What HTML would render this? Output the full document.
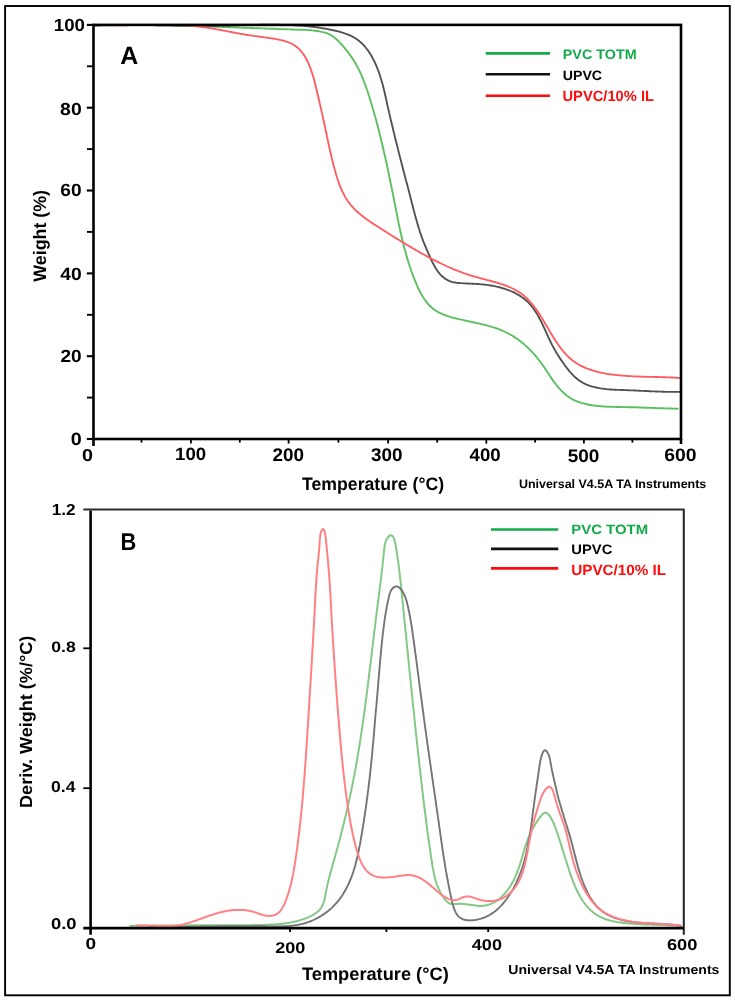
<!DOCTYPE html><html><head><meta charset="utf-8"><title>TGA</title><style>html,body{margin:0;padding:0;background:#fff;}svg{display:block;}text{font-family:"Liberation Sans",sans-serif;text-rendering:geometricPrecision;}</style></head><body>
<svg width="735" height="1001" viewBox="0 0 735 1001">
<rect x="0" y="0" width="735" height="1001" fill="#fff"/>
<rect x="5.1" y="6.0" width="724.7" height="989.3" fill="none" stroke="#000" stroke-width="1.9"/>
<g>
<path d="M94.0,25.1 95.2,25.1 96.4,25.1 97.6,25.1 98.8,25.1 100.0,25.1 101.2,25.0 102.4,25.0 103.6,25.0 104.8,25.0 106.0,25.0 107.2,25.0 108.4,25.0 109.6,25.0 110.8,24.9 112.0,24.9 113.2,24.9 114.4,24.9 115.6,24.9 116.8,24.9 118.0,24.9 119.2,24.9 120.4,24.9 121.6,24.9 122.8,24.9 124.0,24.9 125.2,24.9 126.4,24.9 127.6,24.9 128.8,24.9 130.0,24.9 131.2,24.9 132.4,24.9 133.6,24.9 134.8,24.9 136.0,25.0 137.2,25.0 138.4,25.0 139.6,25.0 140.8,25.0 142.0,25.0 143.2,25.0 144.4,25.0 145.6,25.0 146.8,25.1 148.0,25.1 149.2,25.1 150.4,25.1 151.6,25.1 152.8,25.1 154.0,25.1 155.2,25.2 156.4,25.2 157.6,25.2 158.8,25.2 160.0,25.2 161.2,25.3 162.4,25.3 163.6,25.3 164.8,25.3 166.0,25.4 167.2,25.4 168.4,25.4 169.5,25.4 170.7,25.5 171.9,25.5 173.1,25.5 174.3,25.5 175.5,25.6 176.7,25.6 177.9,25.6 179.1,25.6 180.3,25.7 181.5,25.7 182.7,25.7 183.9,25.8 185.1,25.8 186.3,25.8 187.5,25.9 188.7,25.9 189.9,25.9 191.1,26.0 192.3,26.0 193.5,26.0 194.7,26.1 195.9,26.1 197.1,26.1 198.3,26.2 199.5,26.2 200.7,26.2 201.9,26.3 203.1,26.3 204.3,26.4 205.5,26.4 206.7,26.4 207.9,26.5 209.1,26.5 210.3,26.5 211.5,26.6 212.7,26.6 213.9,26.7 215.1,26.7 216.3,26.7 217.5,26.8 218.7,26.8 219.9,26.9 221.1,26.9 222.3,27.0 223.5,27.0 224.7,27.0 225.9,27.1 227.1,27.1 228.3,27.2 229.5,27.2 230.7,27.2 231.9,27.3 233.1,27.3 234.3,27.4 235.5,27.4 236.7,27.5 237.9,27.5 239.1,27.6 240.3,27.6 241.5,27.6 242.7,27.7 243.9,27.7 245.1,27.8 246.3,27.8 247.5,27.9 248.7,27.9 249.9,27.9 251.1,28.0 252.3,28.0 253.5,28.1 254.7,28.1 255.9,28.2 257.1,28.2 258.3,28.3 259.5,28.3 260.7,28.4 261.9,28.4 263.1,28.4 264.3,28.5 265.5,28.5 266.7,28.6 267.8,28.6 269.0,28.7 270.2,28.7 271.4,28.7 272.6,28.8 273.8,28.8 275.0,28.9 276.2,28.9 277.4,29.0 278.6,29.0 279.8,29.1 281.0,29.1 282.2,29.1 283.4,29.2 284.6,29.2 285.8,29.3 287.0,29.3 288.1,29.4 289.3,29.4 290.5,29.4 291.7,29.5 293.0,29.5 294.2,29.6 295.4,29.6 296.6,29.6 297.8,29.7 299.0,29.7 300.2,29.8 301.4,29.8 302.6,29.8 303.8,29.9 305.1,29.9 306.3,30.0 307.5,30.1 308.7,30.1 309.9,30.2 311.1,30.3 312.3,30.4 313.5,30.6 314.7,30.7 315.9,30.8 317.1,31.0 318.3,31.2 319.5,31.4 320.6,31.6 321.8,31.9 323.0,32.1 324.1,32.4 325.3,32.7 326.4,33.1 327.5,33.5 328.6,34.0 329.6,34.4 330.7,35.0 331.7,35.6 332.7,36.2 333.6,36.9 334.6,37.7 335.5,38.4 336.4,39.2 337.3,40.0 338.2,40.9 339.0,41.7 339.8,42.6 340.7,43.5 341.5,44.4 342.3,45.3 343.1,46.2 343.9,47.1 344.7,48.1 345.4,49.0 346.2,49.9 346.9,50.9 347.7,51.8 348.4,52.7 349.1,53.7 349.8,54.7 350.5,55.6 351.2,56.6 351.9,57.6 352.5,58.6 353.2,59.6 353.8,60.6 354.4,61.6 355.0,62.6 355.6,63.6 356.2,64.6 356.8,65.7 357.4,66.7 357.9,67.8 358.4,68.8 359.0,69.9 359.5,71.0 360.0,72.0 360.5,73.1 361.0,74.2 361.5,75.3 361.9,76.4 362.4,77.5 362.9,78.6 363.3,79.7 363.7,80.8 364.2,81.9 364.6,83.1 365.0,84.2 365.4,85.3 365.8,86.4 366.2,87.6 366.6,88.7 367.0,89.8 367.4,91.0 367.8,92.1 368.2,93.3 368.5,94.4 368.9,95.6 369.3,96.7 369.6,97.9 370.0,99.0 370.3,100.2 370.7,101.3 371.0,102.5 371.4,103.6 371.7,104.8 372.1,105.9 372.4,107.1 372.7,108.2 373.1,109.4 373.4,110.6 373.7,111.7 374.1,112.9 374.4,114.0 374.7,115.2 375.0,116.3 375.4,117.5 375.7,118.7 376.0,119.8 376.3,121.0 376.6,122.1 376.9,123.3 377.2,124.5 377.6,125.6 377.9,126.8 378.2,127.9 378.5,129.1 378.8,130.3 379.1,131.4 379.3,132.6 379.6,133.7 379.9,134.9 380.2,136.1 380.5,137.2 380.8,138.4 381.1,139.6 381.4,140.7 381.6,141.9 381.9,143.1 382.2,144.2 382.5,145.4 382.7,146.6 383.0,147.7 383.3,148.9 383.6,150.1 383.8,151.2 384.1,152.4 384.4,153.6 384.6,154.7 384.9,155.9 385.2,157.1 385.4,158.2 385.7,159.4 385.9,160.6 386.2,161.8 386.5,162.9 386.7,164.1 387.0,165.3 387.2,166.4 387.5,167.6 387.7,168.8 388.0,170.0 388.2,171.1 388.5,172.3 388.7,173.5 389.0,174.6 389.2,175.8 389.4,177.0 389.7,178.2 389.9,179.3 390.2,180.5 390.4,181.7 390.6,182.9 390.9,184.0 391.1,185.2 391.4,186.4 391.6,187.6 391.8,188.7 392.1,189.9 392.3,191.1 392.5,192.3 392.8,193.4 393.0,194.6 393.2,195.8 393.5,197.0 393.7,198.1 393.9,199.3 394.2,200.5 394.4,201.7 394.6,202.8 394.8,204.0 395.1,205.2 395.3,206.4 395.5,207.6 395.8,208.7 396.0,209.9 396.2,211.1 396.5,212.3 396.7,213.4 396.9,214.6 397.2,215.8 397.4,217.0 397.6,218.1 397.9,219.3 398.1,220.5 398.4,221.7 398.6,222.8 398.8,224.0 399.1,225.2 399.3,226.4 399.6,227.5 399.8,228.7 400.1,229.9 400.3,231.0 400.6,232.2 400.9,233.4 401.1,234.6 401.4,235.7 401.7,236.9 401.9,238.1 402.2,239.2 402.5,240.4 402.8,241.6 403.1,242.7 403.3,243.9 403.6,245.1 403.9,246.2 404.2,247.4 404.5,248.5 404.8,249.7 405.1,250.9 405.5,252.0 405.8,253.2 406.1,254.3 406.4,255.5 406.8,256.6 407.1,257.8 407.4,258.9 407.8,260.1 408.1,261.2 408.5,262.4 408.9,263.5 409.2,264.7 409.6,265.8 410.0,267.0 410.4,268.1 410.7,269.2 411.1,270.4 411.5,271.5 411.9,272.7 412.4,273.8 412.8,274.9 413.2,276.1 413.6,277.2 414.1,278.3 414.5,279.4 415.0,280.6 415.4,281.7 415.9,282.8 416.4,283.9 416.8,285.0 417.3,286.2 417.8,287.3 418.3,288.4 418.9,289.5 419.4,290.5 419.9,291.6 420.5,292.7 421.1,293.7 421.6,294.8 422.2,295.8 422.8,296.8 423.5,297.8 424.1,298.8 424.8,299.8 425.5,300.7 426.2,301.7 426.9,302.6 427.6,303.4 428.4,304.3 429.1,305.1 429.9,306.0 430.8,306.8 431.6,307.5 432.5,308.2 433.4,309.0 434.3,309.6 435.3,310.3 436.2,310.9 437.2,311.5 438.2,312.1 439.3,312.6 440.3,313.1 441.4,313.6 442.5,314.1 443.6,314.5 444.7,315.0 445.8,315.4 447.0,315.8 448.1,316.2 449.3,316.6 450.5,316.9 451.6,317.3 452.8,317.6 454.0,317.9 455.2,318.2 456.4,318.5 457.6,318.8 458.9,319.1 460.1,319.4 461.3,319.6 462.5,319.9 463.7,320.2 464.9,320.5 466.1,320.7 467.3,321.0 468.5,321.2 469.7,321.5 470.9,321.8 472.1,322.0 473.3,322.3 474.5,322.5 475.7,322.8 476.9,323.1 478.1,323.3 479.3,323.6 480.5,323.9 481.7,324.2 482.9,324.4 484.0,324.7 485.2,325.0 486.4,325.3 487.5,325.6 488.7,325.9 489.8,326.3 491.0,326.6 492.1,326.9 493.2,327.3 494.4,327.7 495.5,328.0 496.6,328.4 497.7,328.8 498.8,329.2 499.9,329.6 501.0,330.1 502.1,330.5 503.2,331.0 504.2,331.5 505.3,332.0 506.3,332.5 507.4,333.0 508.4,333.5 509.4,334.1 510.5,334.6 511.5,335.2 512.5,335.8 513.5,336.4 514.5,337.1 515.4,337.7 516.4,338.4 517.4,339.0 518.3,339.7 519.3,340.4 520.2,341.1 521.1,341.8 522.0,342.6 523.0,343.3 523.9,344.1 524.8,344.9 525.6,345.7 526.5,346.5 527.4,347.3 528.3,348.1 529.1,348.9 530.0,349.8 530.8,350.6 531.6,351.5 532.5,352.4 533.3,353.3 534.1,354.2 534.9,355.1 535.7,356.0 536.4,356.9 537.2,357.9 538.0,358.8 538.7,359.8 539.5,360.8 540.2,361.8 541.0,362.8 541.7,363.8 542.4,364.8 543.1,365.8 543.8,366.8 544.5,367.8 545.2,368.8 545.9,369.9 546.6,370.9 547.3,371.9 548.0,373.0 548.7,374.0 549.3,375.0 550.0,376.0 550.7,377.1 551.4,378.1 552.1,379.1 552.8,380.1 553.5,381.1 554.2,382.1 554.9,383.0 555.7,384.0 556.4,384.9 557.1,385.9 557.9,386.8 558.6,387.7 559.4,388.6 560.2,389.4 561.0,390.3 561.8,391.1 562.6,391.9 563.4,392.7 564.3,393.5 565.1,394.3 566.0,395.0 566.9,395.7 567.8,396.3 568.7,397.0 569.7,397.6 570.6,398.2 571.6,398.8 572.6,399.3 573.6,399.8 574.7,400.3 575.7,400.8 576.8,401.2 577.8,401.6 578.9,402.0 580.0,402.4 581.1,402.8 582.3,403.1 583.4,403.4 584.5,403.7 585.7,404.0 586.9,404.3 588.0,404.5 589.2,404.8 590.4,405.0 591.6,405.2 592.8,405.4 594.0,405.5 595.2,405.7 596.5,405.9 597.7,406.0 598.9,406.1 600.2,406.2 601.4,406.3 602.7,406.4 603.9,406.5 605.2,406.6 606.4,406.6 607.7,406.7 608.9,406.8 610.2,406.8 611.4,406.8 612.7,406.9 613.9,406.9 615.2,406.9 616.4,407.0 617.7,407.0 618.9,407.0 620.2,407.0 621.4,407.0 622.6,407.1 623.8,407.1 625.0,407.1 626.3,407.1 627.5,407.1 628.7,407.2 629.8,407.2 631.0,407.2 632.2,407.3 633.4,407.3 634.5,407.3 635.7,407.3 636.9,407.4 638.0,407.4 639.2,407.5 640.4,407.5 641.5,407.5 642.7,407.6 643.8,407.6 645.0,407.7 646.1,407.7 647.3,407.7 648.4,407.8 649.6,407.8 650.8,407.9 651.9,407.9 653.1,408.0 654.2,408.0 655.4,408.0 656.6,408.1 657.8,408.1 659.0,408.2 660.2,408.2 661.4,408.2 662.6,408.3 663.8,408.3 665.0,408.4 666.2,408.4 667.5,408.4 668.7,408.5 669.9,408.5 671.2,408.5 672.5,408.6 673.8,408.6 675.1,408.6 676.4,408.7 677.7,408.7" fill="none" stroke="#5cbf5f" stroke-width="1.90" stroke-linejoin="round" stroke-linecap="round"/>
<path d="M94.0,25.7 95.2,25.6 96.4,25.5 97.6,25.5 98.8,25.5 100.0,25.4 101.2,25.4 102.4,25.3 103.6,25.3 104.8,25.2 106.0,25.2 107.2,25.2 108.4,25.2 109.6,25.1 110.8,25.1 112.0,25.1 113.2,25.1 114.4,25.0 115.6,25.0 116.8,25.0 118.0,25.0 119.2,25.0 120.4,25.0 121.6,25.0 122.8,24.9 124.0,24.9 125.2,24.9 126.4,24.9 127.6,24.9 128.8,24.9 130.0,24.9 131.2,24.9 132.4,24.9 133.6,24.9 134.8,24.9 136.0,24.9 137.2,24.9 138.4,25.0 139.6,25.0 140.8,25.0 142.0,25.0 143.2,25.0 144.4,25.0 145.6,25.0 146.8,25.0 148.0,25.0 149.2,25.1 150.4,25.1 151.6,25.1 152.8,25.1 154.0,25.1 155.2,25.1 156.4,25.2 157.6,25.2 158.8,25.2 160.0,25.2 161.2,25.2 162.4,25.3 163.6,25.3 164.8,25.3 165.9,25.3 167.1,25.3 168.3,25.4 169.5,25.4 170.7,25.4 171.9,25.4 173.1,25.4 174.3,25.5 175.5,25.5 176.7,25.5 177.9,25.5 179.1,25.5 180.3,25.6 181.5,25.6 182.7,25.6 183.9,25.6 185.1,25.6 186.3,25.6 187.5,25.6 188.7,25.7 189.9,25.7 191.1,25.7 192.3,25.7 193.5,25.7 194.7,25.7 195.9,25.7 197.1,25.7 198.3,25.7 199.5,25.7 200.7,25.8 201.9,25.8 203.1,25.8 204.3,25.8 205.5,25.8 206.7,25.8 207.9,25.8 209.1,25.8 210.3,25.7 211.5,25.7 212.7,25.7 213.9,25.7 215.1,25.7 216.3,25.7 217.5,25.7 218.7,25.7 219.9,25.6 221.1,25.6 222.3,25.6 223.5,25.6 224.7,25.6 225.9,25.5 227.1,25.5 228.3,25.5 229.5,25.5 230.7,25.4 231.9,25.4 233.1,25.4 234.3,25.3 235.5,25.3 236.7,25.3 237.9,25.2 239.1,25.2 240.3,25.2 241.5,25.1 242.7,25.1 243.9,25.1 245.1,25.1 246.3,25.0 247.5,25.0 248.7,25.0 249.9,24.9 251.1,24.9 252.3,24.9 253.5,24.9 254.7,24.8 255.9,24.8 257.1,24.8 258.3,24.8 259.5,24.7 260.8,24.7 262.0,24.7 263.2,24.7 264.4,24.7 265.6,24.7 266.8,24.7 268.0,24.7 269.2,24.7 270.4,24.7 271.6,24.7 272.8,24.7 274.0,24.7 275.2,24.7 276.4,24.7 277.5,24.7 278.7,24.7 279.9,24.7 281.1,24.8 282.3,24.8 283.5,24.8 284.7,24.8 285.9,24.9 287.1,24.9 288.3,25.0 289.5,25.0 290.7,25.1 291.9,25.1 293.1,25.2 294.3,25.2 295.5,25.3 296.7,25.4 297.9,25.5 299.1,25.5 300.3,25.6 301.5,25.7 302.6,25.8 303.8,25.9 305.0,26.0 306.2,26.1 307.4,26.2 308.6,26.4 309.8,26.5 311.0,26.6 312.2,26.8 313.3,26.9 314.5,27.0 315.7,27.2 316.9,27.4 318.1,27.5 319.3,27.7 320.5,27.9 321.6,28.1 322.8,28.3 324.0,28.5 325.2,28.7 326.4,28.9 327.6,29.1 328.7,29.3 329.9,29.5 331.1,29.8 332.3,30.0 333.4,30.3 334.6,30.5 335.8,30.8 337.0,31.1 338.1,31.4 339.3,31.7 340.4,32.0 341.6,32.4 342.7,32.7 343.9,33.1 345.0,33.5 346.1,33.9 347.2,34.3 348.3,34.7 349.4,35.2 350.5,35.7 351.5,36.2 352.6,36.7 353.6,37.2 354.6,37.8 355.6,38.4 356.6,39.1 357.5,39.7 358.5,40.4 359.4,41.2 360.3,41.9 361.2,42.7 362.1,43.5 362.9,44.4 363.7,45.2 364.5,46.1 365.3,47.0 366.1,48.0 366.8,49.0 367.6,49.9 368.3,50.9 369.0,52.0 369.6,53.0 370.3,54.0 371.0,55.1 371.6,56.2 372.2,57.3 372.8,58.3 373.3,59.5 373.9,60.6 374.5,61.7 375.0,62.8 375.5,63.9 376.0,65.0 376.5,66.1 376.9,67.3 377.4,68.4 377.8,69.5 378.3,70.7 378.7,71.8 379.1,72.9 379.5,74.1 379.9,75.2 380.2,76.3 380.6,77.5 380.9,78.6 381.3,79.8 381.6,80.9 381.9,82.1 382.3,83.2 382.6,84.4 382.9,85.5 383.2,86.7 383.5,87.8 383.8,89.0 384.0,90.1 384.3,91.3 384.6,92.4 384.9,93.6 385.1,94.8 385.4,95.9 385.6,97.1 385.9,98.2 386.2,99.4 386.4,100.6 386.7,101.7 386.9,102.9 387.2,104.1 387.4,105.2 387.7,106.4 388.0,107.5 388.2,108.7 388.5,109.9 388.8,111.0 389.0,112.2 389.3,113.4 389.6,114.5 389.8,115.7 390.1,116.8 390.4,118.0 390.6,119.2 390.9,120.3 391.2,121.5 391.5,122.7 391.7,123.8 392.0,125.0 392.3,126.1 392.6,127.3 392.9,128.5 393.1,129.6 393.4,130.8 393.7,132.0 394.0,133.1 394.3,134.3 394.6,135.5 394.8,136.6 395.1,137.8 395.4,138.9 395.7,140.1 396.0,141.3 396.3,142.4 396.6,143.6 396.9,144.8 397.2,145.9 397.5,147.1 397.8,148.2 398.0,149.4 398.3,150.6 398.6,151.7 398.9,152.9 399.2,154.1 399.5,155.2 399.8,156.4 400.1,157.6 400.4,158.7 400.7,159.9 401.0,161.0 401.3,162.2 401.6,163.4 401.9,164.5 402.2,165.7 402.5,166.9 402.8,168.0 403.1,169.2 403.4,170.4 403.7,171.5 404.0,172.7 404.3,173.8 404.6,175.0 404.9,176.2 405.2,177.3 405.5,178.5 405.8,179.7 406.1,180.8 406.5,182.0 406.8,183.2 407.1,184.3 407.4,185.5 407.7,186.6 408.0,187.8 408.3,189.0 408.6,190.1 408.9,191.3 409.2,192.5 409.5,193.6 409.8,194.8 410.1,196.0 410.4,197.1 410.7,198.3 411.0,199.4 411.3,200.6 411.6,201.8 411.9,202.9 412.2,204.1 412.5,205.3 412.8,206.4 413.1,207.6 413.4,208.8 413.7,209.9 414.0,211.1 414.3,212.2 414.6,213.4 414.9,214.6 415.2,215.7 415.5,216.9 415.9,218.0 416.2,219.2 416.5,220.3 416.8,221.5 417.2,222.6 417.5,223.8 417.8,224.9 418.2,226.1 418.5,227.2 418.9,228.3 419.2,229.5 419.6,230.6 419.9,231.7 420.3,232.9 420.7,234.0 421.1,235.1 421.5,236.2 421.9,237.4 422.3,238.5 422.7,239.6 423.1,240.7 423.5,241.8 424.0,242.9 424.4,244.0 424.9,245.1 425.3,246.2 425.8,247.3 426.2,248.4 426.7,249.5 427.2,250.6 427.7,251.7 428.1,252.7 428.6,253.8 429.1,254.9 429.6,256.0 430.1,257.2 430.6,258.3 431.1,259.4 431.6,260.5 432.1,261.6 432.7,262.7 433.2,263.8 433.8,264.8 434.4,265.9 435.0,266.9 435.6,268.0 436.2,269.0 436.9,270.0 437.5,271.0 438.2,271.9 439.0,272.9 439.7,273.8 440.5,274.7 441.3,275.5 442.2,276.3 443.1,277.1 444.0,277.8 445.0,278.6 446.0,279.2 447.0,279.8 448.0,280.4 449.1,280.9 450.2,281.3 451.3,281.7 452.5,282.1 453.7,282.3 454.8,282.5 456.0,282.7 457.3,282.9 458.5,283.0 459.7,283.1 460.9,283.1 462.1,283.2 463.3,283.3 464.5,283.3 465.7,283.4 466.9,283.5 468.1,283.5 469.3,283.6 470.5,283.6 471.7,283.7 472.8,283.7 474.0,283.8 475.2,283.9 476.4,283.9 477.6,284.0 478.8,284.1 479.9,284.2 481.1,284.3 482.3,284.4 483.5,284.5 484.7,284.6 485.9,284.8 487.1,284.9 488.3,285.1 489.5,285.3 490.7,285.5 491.9,285.7 493.1,285.9 494.3,286.1 495.5,286.4 496.7,286.6 497.8,286.9 499.0,287.2 500.2,287.5 501.4,287.8 502.6,288.2 503.7,288.5 504.9,288.9 506.0,289.3 507.2,289.7 508.3,290.1 509.4,290.5 510.5,291.0 511.6,291.4 512.7,291.9 513.8,292.4 514.9,292.9 515.9,293.5 517.0,294.1 518.0,294.6 519.0,295.2 520.0,295.9 521.0,296.5 521.9,297.2 522.9,297.8 523.8,298.5 524.7,299.3 525.6,300.0 526.5,300.8 527.4,301.6 528.2,302.4 529.0,303.2 529.8,304.1 530.6,304.9 531.3,305.8 532.0,306.7 532.8,307.7 533.5,308.6 534.2,309.6 534.8,310.6 535.5,311.6 536.1,312.6 536.8,313.6 537.4,314.6 538.0,315.7 538.6,316.7 539.2,317.8 539.7,318.9 540.3,319.9 540.9,321.0 541.4,322.1 541.9,323.2 542.5,324.3 543.0,325.5 543.5,326.6 544.1,327.7 544.6,328.8 545.1,329.9 545.6,331.1 546.1,332.2 546.6,333.3 547.1,334.4 547.6,335.5 548.1,336.7 548.7,337.8 549.2,338.9 549.7,340.0 550.2,341.0 550.7,342.1 551.3,343.2 551.8,344.3 552.3,345.3 552.9,346.4 553.4,347.4 554.0,348.4 554.6,349.4 555.2,350.5 555.7,351.5 556.3,352.5 556.9,353.5 557.6,354.5 558.2,355.4 558.8,356.4 559.4,357.4 560.1,358.4 560.7,359.4 561.4,360.4 562.1,361.3 562.7,362.3 563.4,363.3 564.1,364.3 564.8,365.3 565.6,366.3 566.3,367.2 567.0,368.2 567.8,369.2 568.6,370.1 569.3,371.1 570.1,372.0 570.9,372.9 571.8,373.8 572.6,374.7 573.4,375.6 574.3,376.4 575.2,377.3 576.1,378.0 577.0,378.8 577.9,379.5 578.9,380.2 579.8,380.9 580.8,381.5 581.8,382.1 582.8,382.7 583.8,383.3 584.9,383.8 585.9,384.3 587.0,384.7 588.1,385.2 589.2,385.6 590.3,385.9 591.4,386.3 592.5,386.6 593.6,386.9 594.8,387.2 595.9,387.5 597.1,387.7 598.3,388.0 599.4,388.2 600.6,388.4 601.8,388.6 603.0,388.7 604.2,388.9 605.4,389.0 606.6,389.2 607.9,389.3 609.1,389.4 610.3,389.5 611.5,389.5 612.8,389.6 614.0,389.7 615.2,389.7 616.5,389.8 617.7,389.9 618.9,389.9 620.2,389.9 621.4,390.0 622.6,390.0 623.8,390.1 625.1,390.1 626.3,390.1 627.5,390.2 628.7,390.2 629.9,390.3 631.1,390.3 632.3,390.4 633.5,390.4 634.7,390.5 635.9,390.5 637.1,390.6 638.2,390.7 639.4,390.7 640.6,390.8 641.8,390.8 643.0,390.9 644.1,390.9 645.3,391.0 646.5,391.0 647.7,391.1 648.8,391.2 650.0,391.2 651.2,391.3 652.4,391.3 653.5,391.4 654.7,391.4 655.9,391.5 657.1,391.5 658.3,391.6 659.5,391.6 660.7,391.6 661.8,391.7 663.0,391.7 664.2,391.7 665.4,391.8 666.6,391.8 667.8,391.8 669.1,391.8 670.3,391.9 671.5,391.9 672.7,391.9 674.0,391.9 675.2,391.9 676.4,391.9 677.7,391.9 678.9,391.9 680.2,391.9" fill="none" stroke="#505050" stroke-width="1.85" stroke-linejoin="round" stroke-linecap="round"/>
<path d="M94.1,24.7 95.3,24.7 96.5,24.8 97.6,24.9 98.8,24.9 100.0,24.9 101.2,25.0 102.4,25.0 103.6,25.1 104.8,25.1 106.0,25.1 107.2,25.1 108.4,25.2 109.5,25.2 110.7,25.2 111.9,25.2 113.1,25.2 114.3,25.2 115.5,25.2 116.7,25.2 117.9,25.2 119.1,25.2 120.3,25.2 121.5,25.2 122.7,25.2 123.9,25.2 125.1,25.2 126.3,25.2 127.5,25.2 128.7,25.1 129.9,25.1 131.1,25.1 132.3,25.1 133.5,25.1 134.7,25.1 135.9,25.0 137.1,25.0 138.3,25.0 139.5,25.0 140.7,25.0 141.9,25.0 143.1,24.9 144.3,24.9 145.5,24.9 146.7,24.9 147.9,24.9 149.1,24.9 150.3,24.9 151.5,24.8 152.7,24.8 153.9,24.8 155.1,24.8 156.3,24.8 157.5,24.8 158.7,24.8 159.9,24.8 161.1,24.8 162.3,24.8 163.5,24.8 164.7,24.8 165.9,24.8 167.1,24.9 168.3,24.9 169.5,24.9 170.7,24.9 171.9,24.9 173.1,25.0 174.3,25.0 175.5,25.0 176.7,25.1 177.9,25.1 179.1,25.2 180.3,25.2 181.5,25.3 182.7,25.3 183.9,25.4 185.1,25.5 186.3,25.6 187.5,25.6 188.7,25.7 189.9,25.8 191.1,25.9 192.2,26.0 193.4,26.1 194.6,26.2 195.8,26.3 197.0,26.4 198.2,26.6 199.4,26.7 200.6,26.8 201.7,27.0 202.9,27.1 204.1,27.3 205.3,27.4 206.5,27.6 207.7,27.8 208.8,28.0 210.0,28.2 211.2,28.3 212.4,28.5 213.6,28.7 214.7,28.9 215.9,29.2 217.1,29.4 218.3,29.6 219.4,29.8 220.6,30.0 221.8,30.2 223.0,30.5 224.1,30.7 225.3,30.9 226.5,31.1 227.7,31.4 228.9,31.6 230.0,31.8 231.2,32.0 232.4,32.3 233.6,32.5 234.7,32.7 235.9,32.9 237.1,33.2 238.3,33.4 239.4,33.6 240.6,33.8 241.8,34.0 243.0,34.2 244.2,34.4 245.4,34.6 246.5,34.8 247.7,35.0 248.9,35.2 250.1,35.4 251.3,35.6 252.5,35.7 253.6,35.9 254.8,36.1 256.0,36.2 257.2,36.4 258.4,36.5 259.6,36.7 260.8,36.8 262.0,37.0 263.2,37.2 264.4,37.3 265.6,37.5 266.8,37.6 268.0,37.8 269.2,38.0 270.3,38.1 271.5,38.3 272.7,38.5 273.9,38.7 275.1,38.9 276.3,39.1 277.5,39.4 278.7,39.6 279.9,39.9 281.1,40.1 282.3,40.4 283.4,40.7 284.6,41.0 285.7,41.4 286.8,41.8 288.0,42.2 289.1,42.6 290.1,43.0 291.2,43.5 292.2,44.0 293.2,44.6 294.2,45.2 295.2,45.8 296.1,46.5 297.0,47.2 297.9,47.9 298.7,48.7 299.5,49.5 300.3,50.4 301.1,51.2 301.8,52.2 302.6,53.1 303.2,54.0 303.9,55.0 304.6,56.0 305.2,57.1 305.8,58.1 306.4,59.2 307.0,60.2 307.5,61.3 308.0,62.4 308.5,63.6 309.0,64.7 309.5,65.8 310.0,67.0 310.4,68.1 310.8,69.3 311.2,70.5 311.6,71.6 312.0,72.8 312.4,74.0 312.7,75.1 313.1,76.3 313.4,77.5 313.8,78.6 314.1,79.8 314.4,81.0 314.7,82.1 315.0,83.3 315.3,84.5 315.6,85.7 315.9,86.8 316.1,88.0 316.4,89.2 316.7,90.3 317.0,91.5 317.3,92.7 317.5,93.9 317.8,95.0 318.1,96.2 318.4,97.4 318.6,98.5 318.9,99.7 319.2,100.9 319.5,102.0 319.7,103.2 320.0,104.4 320.3,105.5 320.5,106.7 320.8,107.9 321.1,109.0 321.3,110.2 321.6,111.4 321.8,112.5 322.1,113.7 322.4,114.8 322.6,116.0 322.9,117.2 323.1,118.3 323.4,119.5 323.7,120.7 323.9,121.8 324.2,123.0 324.4,124.2 324.7,125.3 324.9,126.5 325.2,127.7 325.4,128.8 325.6,130.0 325.9,131.1 326.1,132.3 326.4,133.5 326.6,134.6 326.9,135.8 327.1,137.0 327.4,138.1 327.6,139.3 327.8,140.5 328.1,141.6 328.3,142.8 328.6,144.0 328.8,145.1 329.1,146.3 329.3,147.5 329.6,148.6 329.9,149.8 330.1,151.0 330.4,152.1 330.6,153.3 330.9,154.5 331.2,155.6 331.5,156.8 331.7,158.0 332.0,159.1 332.3,160.3 332.6,161.5 332.9,162.6 333.2,163.8 333.5,165.0 333.8,166.2 334.1,167.3 334.4,168.5 334.7,169.7 335.1,170.8 335.4,172.0 335.7,173.2 336.1,174.4 336.4,175.5 336.8,176.7 337.1,177.8 337.5,179.0 337.9,180.2 338.3,181.3 338.7,182.5 339.1,183.6 339.5,184.7 340.0,185.9 340.4,187.0 340.9,188.1 341.3,189.2 341.8,190.3 342.3,191.4 342.8,192.4 343.4,193.5 343.9,194.6 344.5,195.6 345.0,196.6 345.6,197.7 346.3,198.7 346.9,199.7 347.5,200.6 348.2,201.6 348.9,202.5 349.6,203.5 350.3,204.4 351.0,205.3 351.8,206.2 352.6,207.1 353.4,207.9 354.2,208.8 355.0,209.6 355.8,210.4 356.7,211.2 357.6,212.0 358.5,212.8 359.3,213.6 360.3,214.3 361.2,215.1 362.1,215.8 363.0,216.6 364.0,217.3 365.0,218.0 365.9,218.7 366.9,219.4 367.9,220.1 368.9,220.8 369.9,221.5 370.9,222.2 371.9,222.9 372.9,223.5 373.9,224.2 374.9,224.9 376.0,225.5 377.0,226.2 378.0,226.8 379.0,227.5 380.1,228.1 381.1,228.8 382.1,229.4 383.1,230.1 384.2,230.7 385.2,231.4 386.2,232.0 387.2,232.7 388.3,233.3 389.3,234.0 390.3,234.6 391.3,235.3 392.3,235.9 393.4,236.5 394.4,237.2 395.4,237.8 396.4,238.4 397.5,239.1 398.5,239.7 399.5,240.3 400.5,241.0 401.6,241.6 402.6,242.2 403.6,242.8 404.6,243.4 405.6,244.1 406.7,244.7 407.7,245.3 408.7,245.9 409.8,246.5 410.8,247.1 411.8,247.7 412.8,248.3 413.9,248.9 414.9,249.5 415.9,250.1 416.9,250.7 418.0,251.3 419.0,251.9 420.0,252.5 421.1,253.1 422.1,253.6 423.2,254.2 424.2,254.8 425.2,255.4 426.3,255.9 427.3,256.5 428.3,257.1 429.4,257.6 430.4,258.2 431.5,258.7 432.5,259.3 433.6,259.8 434.6,260.3 435.7,260.9 436.7,261.4 437.8,261.9 438.9,262.5 439.9,263.0 441.0,263.5 442.0,264.0 443.1,264.5 444.2,265.0 445.3,265.5 446.3,266.0 447.4,266.5 448.5,267.0 449.6,267.5 450.7,267.9 451.8,268.4 452.9,268.9 454.0,269.3 455.1,269.8 456.2,270.2 457.3,270.7 458.4,271.1 459.5,271.5 460.6,271.9 461.8,272.4 462.9,272.8 464.0,273.2 465.2,273.6 466.3,274.0 467.4,274.4 468.6,274.7 469.7,275.1 470.9,275.5 472.1,275.8 473.2,276.2 474.4,276.5 475.6,276.9 476.8,277.2 478.0,277.5 479.1,277.9 480.3,278.2 481.5,278.5 482.7,278.8 483.9,279.1 485.1,279.4 486.3,279.8 487.5,280.1 488.7,280.4 489.9,280.7 491.1,281.0 492.3,281.3 493.4,281.7 494.6,282.0 495.8,282.3 497.0,282.7 498.1,283.0 499.3,283.4 500.4,283.8 501.6,284.1 502.7,284.5 503.9,284.9 505.0,285.3 506.1,285.7 507.2,286.2 508.3,286.6 509.4,287.1 510.5,287.5 511.5,288.0 512.6,288.5 513.6,289.0 514.7,289.5 515.7,290.1 516.7,290.7 517.7,291.3 518.6,291.9 519.6,292.5 520.5,293.1 521.5,293.8 522.4,294.5 523.3,295.2 524.2,295.9 525.0,296.7 525.9,297.4 526.7,298.2 527.5,299.0 528.3,299.9 529.1,300.7 529.9,301.6 530.7,302.4 531.5,303.3 532.2,304.2 532.9,305.1 533.7,306.1 534.4,307.0 535.1,308.0 535.8,308.9 536.5,309.9 537.2,310.9 537.9,311.9 538.6,312.9 539.2,313.9 539.9,314.9 540.5,316.0 541.2,317.0 541.8,318.0 542.5,319.1 543.1,320.1 543.8,321.2 544.4,322.3 545.0,323.3 545.7,324.4 546.3,325.4 546.9,326.5 547.6,327.6 548.2,328.6 548.8,329.7 549.4,330.8 550.1,331.8 550.7,332.9 551.3,334.0 552.0,335.0 552.6,336.1 553.3,337.1 553.9,338.2 554.6,339.2 555.2,340.2 555.9,341.2 556.6,342.3 557.3,343.3 557.9,344.3 558.6,345.2 559.3,346.2 560.0,347.2 560.8,348.1 561.5,349.1 562.2,350.0 563.0,350.9 563.7,351.8 564.5,352.7 565.3,353.6 566.1,354.4 566.9,355.3 567.7,356.1 568.5,356.9 569.4,357.7 570.2,358.5 571.1,359.2 572.0,360.0 572.9,360.7 573.8,361.4 574.7,362.0 575.7,362.7 576.6,363.3 577.6,363.9 578.6,364.5 579.6,365.0 580.7,365.6 581.7,366.1 582.7,366.6 583.8,367.1 584.9,367.6 585.9,368.1 587.0,368.5 588.1,368.9 589.3,369.3 590.4,369.7 591.5,370.1 592.6,370.5 593.8,370.8 595.0,371.1 596.1,371.5 597.3,371.8 598.5,372.1 599.6,372.3 600.8,372.6 602.0,372.9 603.2,373.1 604.4,373.3 605.6,373.6 606.9,373.8 608.1,374.0 609.3,374.1 610.5,374.3 611.7,374.5 612.9,374.7 614.2,374.8 615.4,374.9 616.6,375.1 617.8,375.2 619.1,375.3 620.3,375.4 621.5,375.5 622.7,375.6 623.9,375.7 625.1,375.8 626.4,375.9 627.6,376.0 628.8,376.1 630.0,376.1 631.2,376.2 632.3,376.3 633.5,376.3 634.7,376.4 635.9,376.4 637.1,376.5 638.3,376.5 639.5,376.6 640.6,376.6 641.8,376.6 643.0,376.7 644.2,376.7 645.3,376.7 646.5,376.8 647.7,376.8 648.9,376.8 650.0,376.8 651.2,376.9 652.4,376.9 653.6,376.9 654.8,377.0 655.9,377.0 657.1,377.0 658.3,377.0 659.5,377.1 660.7,377.1 661.9,377.1 663.1,377.2 664.3,377.2 665.5,377.2 666.7,377.3 667.9,377.3 669.1,377.4 670.3,377.4 671.5,377.5 672.7,377.5 674.0,377.6 675.2,377.7 676.4,377.7 677.7,377.8 678.9,377.9 680.2,378.0" fill="none" stroke="#ff5a60" stroke-width="1.85" stroke-linejoin="round" stroke-linecap="round"/>
<path d="M130.2,925.9 131.4,925.9 132.6,925.8 133.8,925.8 135.0,925.8 136.2,925.8 137.3,925.8 138.5,925.8 139.7,925.8 140.9,925.8 142.1,925.8 143.3,925.7 144.5,925.7 145.7,925.7 146.9,925.7 148.1,925.7 149.3,925.7 150.5,925.7 151.7,925.7 152.9,925.7 154.1,925.6 155.3,925.6 156.5,925.6 157.7,925.6 158.9,925.6 160.1,925.6 161.2,925.6 162.4,925.6 163.6,925.5 164.8,925.5 166.0,925.5 167.2,925.5 168.4,925.5 169.6,925.5 170.8,925.5 172.0,925.5 173.2,925.5 174.4,925.4 175.6,925.4 176.8,925.4 178.0,925.4 179.2,925.4 180.4,925.4 181.6,925.4 182.8,925.4 184.0,925.4 185.2,925.4 186.4,925.3 187.6,925.3 188.8,925.3 190.0,925.3 191.2,925.3 192.4,925.3 193.6,925.3 194.8,925.3 196.0,925.3 197.2,925.3 198.4,925.3 199.6,925.3 200.8,925.3 202.0,925.3 203.2,925.3 204.4,925.2 205.6,925.2 206.8,925.2 208.0,925.2 209.2,925.2 210.4,925.2 211.6,925.2 212.8,925.2 214.0,925.2 215.2,925.2 216.4,925.2 217.6,925.2 218.8,925.2 220.0,925.2 221.2,925.2 222.4,925.2 223.6,925.2 224.8,925.2 226.0,925.2 227.2,925.2 228.4,925.2 229.6,925.2 230.8,925.2 232.0,925.2 233.2,925.2 234.4,925.3 235.6,925.3 236.8,925.3 238.0,925.3 239.2,925.3 240.4,925.3 241.6,925.2 242.8,925.2 244.0,925.2 245.2,925.2 246.4,925.2 247.6,925.2 248.8,925.2 250.0,925.2 251.2,925.2 252.4,925.2 253.6,925.1 254.8,925.1 256.0,925.1 257.2,925.1 258.4,925.1 259.6,925.0 260.8,925.0 262.0,925.0 263.2,924.9 264.4,924.9 265.6,924.8 266.8,924.8 268.0,924.7 269.2,924.7 270.4,924.6 271.6,924.6 272.8,924.5 274.0,924.4 275.1,924.4 276.3,924.3 277.5,924.2 278.7,924.1 279.9,924.0 281.1,923.9 282.3,923.8 283.5,923.6 284.7,923.5 285.9,923.3 287.1,923.2 288.2,923.0 289.4,922.8 290.6,922.6 291.7,922.3 292.9,922.1 294.1,921.8 295.2,921.6 296.4,921.3 297.6,921.0 298.7,920.6 299.9,920.3 301.0,919.9 302.2,919.6 303.3,919.2 304.4,918.8 305.6,918.3 306.7,917.9 307.9,917.4 309.0,916.9 310.1,916.4 311.2,915.9 312.3,915.3 313.4,914.7 314.4,914.1 315.4,913.4 316.4,912.7 317.3,912.0 318.2,911.3 319.0,910.5 319.8,909.6 320.5,908.7 321.2,907.8 321.8,906.8 322.3,905.8 322.8,904.8 323.2,903.7 323.6,902.6 324.0,901.5 324.3,900.3 324.6,899.1 324.8,897.9 325.1,896.7 325.3,895.5 325.5,894.3 325.8,893.0 326.0,891.8 326.2,890.6 326.5,889.4 326.7,888.2 327.0,887.0 327.2,885.8 327.5,884.6 327.8,883.5 328.1,882.3 328.3,881.1 328.6,879.9 328.9,878.8 329.2,877.6 329.5,876.4 329.8,875.3 330.1,874.1 330.4,873.0 330.7,871.8 331.1,870.7 331.4,869.5 331.7,868.4 332.0,867.2 332.3,866.1 332.7,864.9 333.0,863.8 333.3,862.7 333.6,861.5 334.0,860.4 334.3,859.2 334.6,858.1 334.9,856.9 335.2,855.8 335.6,854.6 335.9,853.5 336.2,852.3 336.5,851.2 336.8,850.0 337.1,848.9 337.5,847.7 337.8,846.6 338.1,845.4 338.4,844.3 338.7,843.1 339.0,842.0 339.3,840.8 339.6,839.7 339.9,838.5 340.2,837.4 340.5,836.2 340.8,835.0 341.1,833.9 341.4,832.7 341.7,831.6 342.0,830.4 342.3,829.2 342.6,828.1 342.9,826.9 343.2,825.7 343.5,824.6 343.8,823.4 344.1,822.3 344.3,821.1 344.6,819.9 344.9,818.8 345.2,817.6 345.5,816.4 345.8,815.3 346.0,814.1 346.3,812.9 346.6,811.8 346.9,810.6 347.1,809.4 347.4,808.2 347.7,807.1 347.9,805.9 348.2,804.7 348.5,803.6 348.7,802.4 349.0,801.2 349.2,800.0 349.5,798.9 349.7,797.7 350.0,796.5 350.2,795.4 350.5,794.2 350.7,793.0 351.0,791.8 351.2,790.7 351.5,789.5 351.7,788.3 352.0,787.1 352.2,786.0 352.4,784.8 352.7,783.6 352.9,782.4 353.1,781.2 353.4,780.1 353.6,778.9 353.8,777.7 354.0,776.5 354.3,775.4 354.5,774.2 354.7,773.0 354.9,771.8 355.1,770.6 355.4,769.5 355.6,768.3 355.8,767.1 356.0,765.9 356.2,764.8 356.4,763.6 356.6,762.4 356.8,761.2 357.0,760.0 357.2,758.9 357.4,757.7 357.6,756.5 357.8,755.3 358.0,754.1 358.2,752.9 358.4,751.8 358.6,750.6 358.8,749.4 359.0,748.2 359.2,747.0 359.4,745.8 359.6,744.7 359.8,743.5 359.9,742.3 360.1,741.1 360.3,739.9 360.5,738.7 360.7,737.6 360.9,736.4 361.0,735.2 361.2,734.0 361.4,732.8 361.6,731.6 361.7,730.5 361.9,729.3 362.1,728.1 362.3,726.9 362.4,725.7 362.6,724.5 362.8,723.3 362.9,722.2 363.1,721.0 363.3,719.8 363.4,718.6 363.6,717.4 363.8,716.2 363.9,715.0 364.1,713.8 364.3,712.7 364.4,711.5 364.6,710.3 364.8,709.1 364.9,707.9 365.1,706.7 365.2,705.5 365.4,704.3 365.5,703.2 365.7,702.0 365.9,700.8 366.0,699.6 366.2,698.4 366.3,697.2 366.5,696.0 366.6,694.8 366.8,693.6 366.9,692.5 367.1,691.3 367.2,690.1 367.4,688.9 367.5,687.7 367.7,686.5 367.8,685.3 368.0,684.1 368.1,682.9 368.3,681.8 368.4,680.6 368.6,679.4 368.7,678.2 368.9,677.0 369.0,675.8 369.1,674.6 369.3,673.4 369.4,672.2 369.6,671.0 369.7,669.9 369.9,668.7 370.0,667.5 370.2,666.3 370.3,665.1 370.5,663.9 370.6,662.7 370.7,661.5 370.9,660.3 371.0,659.1 371.2,657.9 371.3,656.8 371.5,655.6 371.6,654.4 371.7,653.2 371.9,652.0 372.0,650.8 372.2,649.6 372.3,648.4 372.5,647.2 372.6,646.0 372.7,644.8 372.9,643.6 373.0,642.5 373.2,641.3 373.3,640.1 373.5,638.9 373.6,637.7 373.7,636.5 373.9,635.3 374.0,634.1 374.2,632.9 374.3,631.7 374.5,630.5 374.6,629.3 374.8,628.2 374.9,627.0 375.1,625.8 375.2,624.6 375.4,623.4 375.5,622.2 375.6,621.0 375.8,619.8 375.9,618.6 376.1,617.4 376.2,616.2 376.4,615.1 376.5,613.9 376.7,612.7 376.8,611.5 377.0,610.3 377.1,609.1 377.3,607.9 377.4,606.7 377.6,605.5 377.7,604.3 377.9,603.1 378.1,602.0 378.2,600.8 378.4,599.6 378.5,598.4 378.7,597.2 378.8,596.0 379.0,594.8 379.1,593.6 379.3,592.5 379.4,591.3 379.5,590.1 379.7,588.9 379.8,587.7 380.0,586.5 380.1,585.3 380.3,584.2 380.4,583.0 380.6,581.8 380.7,580.6 380.9,579.4 381.0,578.3 381.1,577.1 381.3,575.9 381.4,574.7 381.6,573.5 381.7,572.4 381.8,571.2 382.0,570.0 382.1,568.8 382.3,567.7 382.4,566.5 382.5,565.3 382.7,564.1 382.8,562.9 382.9,561.7 383.0,560.5 383.2,559.3 383.3,558.1 383.4,556.9 383.5,555.7 383.7,554.5 383.8,553.2 383.9,552.0 384.0,550.7 384.2,549.5 384.3,548.2 384.5,547.0 384.7,545.7 384.9,544.5 385.2,543.3 385.5,542.2 385.9,541.0 386.4,540.0 386.9,538.9 387.6,537.9 388.3,537.0 389.1,536.1 390.0,535.5 390.9,535.3 391.9,535.6 392.8,536.3 393.5,537.4 394.1,538.6 394.5,539.9 394.8,541.3 395.1,542.5 395.4,543.8 395.6,544.9 395.8,546.1 396.0,547.2 396.2,548.3 396.4,549.4 396.5,550.5 396.7,551.7 396.9,552.8 397.1,554.0 397.2,555.2 397.4,556.4 397.6,557.5 397.7,558.7 397.9,559.9 398.1,561.1 398.2,562.3 398.4,563.5 398.6,564.7 398.7,565.9 398.9,567.1 399.0,568.3 399.2,569.5 399.3,570.7 399.5,571.9 399.6,573.1 399.7,574.3 399.9,575.5 400.0,576.7 400.1,577.9 400.3,579.1 400.4,580.3 400.5,581.5 400.7,582.6 400.8,583.8 400.9,585.0 401.0,586.2 401.2,587.4 401.3,588.6 401.4,589.8 401.5,591.0 401.7,592.2 401.8,593.4 401.9,594.6 402.0,595.8 402.1,597.0 402.3,598.1 402.4,599.3 402.5,600.5 402.6,601.7 402.7,602.9 402.8,604.1 403.0,605.3 403.1,606.5 403.2,607.7 403.3,608.9 403.4,610.1 403.6,611.3 403.7,612.4 403.8,613.6 403.9,614.8 404.0,616.0 404.1,617.2 404.3,618.4 404.4,619.6 404.5,620.8 404.6,622.0 404.7,623.2 404.9,624.4 405.0,625.6 405.1,626.7 405.2,627.9 405.3,629.1 405.5,630.3 405.6,631.5 405.7,632.7 405.8,633.9 405.9,635.1 406.1,636.3 406.2,637.5 406.3,638.7 406.4,639.9 406.5,641.1 406.6,642.2 406.8,643.4 406.9,644.6 407.0,645.8 407.1,647.0 407.2,648.2 407.4,649.4 407.5,650.6 407.6,651.8 407.7,653.0 407.9,654.2 408.0,655.4 408.1,656.6 408.2,657.7 408.3,658.9 408.5,660.1 408.6,661.3 408.7,662.5 408.8,663.7 408.9,664.9 409.1,666.1 409.2,667.3 409.3,668.5 409.4,669.7 409.5,670.9 409.7,672.1 409.8,673.3 409.9,674.4 410.0,675.6 410.2,676.8 410.3,678.0 410.4,679.2 410.5,680.4 410.6,681.6 410.8,682.8 410.9,684.0 411.0,685.2 411.1,686.4 411.3,687.6 411.4,688.8 411.5,690.0 411.6,691.1 411.7,692.3 411.9,693.5 412.0,694.7 412.1,695.9 412.2,697.1 412.4,698.3 412.5,699.5 412.6,700.7 412.7,701.9 412.8,703.1 413.0,704.3 413.1,705.5 413.2,706.7 413.3,707.9 413.5,709.0 413.6,710.2 413.7,711.4 413.8,712.6 414.0,713.8 414.1,715.0 414.2,716.2 414.3,717.4 414.5,718.6 414.6,719.8 414.7,721.0 414.8,722.2 415.0,723.4 415.1,724.6 415.2,725.7 415.3,726.9 415.5,728.1 415.6,729.3 415.7,730.5 415.8,731.7 416.0,732.9 416.1,734.1 416.2,735.3 416.4,736.5 416.5,737.7 416.6,738.9 416.7,740.1 416.9,741.3 417.0,742.4 417.1,743.6 417.2,744.8 417.4,746.0 417.5,747.2 417.6,748.4 417.8,749.6 417.9,750.8 418.0,752.0 418.2,753.2 418.3,754.4 418.4,755.6 418.5,756.7 418.7,757.9 418.8,759.1 418.9,760.3 419.1,761.5 419.2,762.7 419.3,763.9 419.5,765.1 419.6,766.3 419.7,767.5 419.9,768.7 420.0,769.8 420.1,771.0 420.3,772.2 420.4,773.4 420.5,774.6 420.7,775.8 420.8,777.0 420.9,778.2 421.1,779.4 421.2,780.6 421.4,781.7 421.5,782.9 421.6,784.1 421.8,785.3 421.9,786.5 422.0,787.7 422.2,788.9 422.3,790.1 422.5,791.3 422.6,792.4 422.7,793.6 422.9,794.8 423.0,796.0 423.2,797.2 423.3,798.4 423.4,799.6 423.6,800.8 423.7,802.0 423.9,803.1 424.0,804.3 424.2,805.5 424.3,806.7 424.5,807.9 424.6,809.1 424.8,810.3 424.9,811.5 425.1,812.7 425.2,813.8 425.4,815.0 425.5,816.2 425.7,817.4 425.8,818.6 426.0,819.8 426.1,821.0 426.3,822.2 426.4,823.4 426.6,824.5 426.7,825.7 426.9,826.9 427.0,828.1 427.2,829.3 427.4,830.5 427.5,831.7 427.7,832.9 427.8,834.1 428.0,835.2 428.2,836.4 428.3,837.6 428.5,838.8 428.7,840.0 428.8,841.2 429.0,842.4 429.2,843.6 429.3,844.8 429.5,846.0 429.7,847.1 429.8,848.3 430.0,849.5 430.2,850.7 430.4,851.9 430.5,853.1 430.7,854.3 430.9,855.5 431.1,856.7 431.2,857.9 431.4,859.1 431.6,860.3 431.8,861.4 432.0,862.6 432.1,863.8 432.3,865.0 432.5,866.2 432.7,867.4 432.9,868.6 433.1,869.8 433.4,870.9 433.6,872.1 433.8,873.3 434.1,874.5 434.4,875.6 434.6,876.8 434.9,877.9 435.2,879.1 435.5,880.2 435.9,881.4 436.2,882.5 436.6,883.6 437.0,884.8 437.4,885.9 437.8,887.0 438.3,888.1 438.8,889.2 439.3,890.2 439.8,891.3 440.4,892.4 440.9,893.4 441.5,894.4 442.2,895.5 442.8,896.5 443.5,897.5 444.2,898.5 445.0,899.5 445.8,900.4 446.6,901.3 447.5,902.1 448.4,902.8 449.4,903.4 450.4,903.8 451.4,904.0 452.5,904.1 453.7,904.2 454.8,904.1 456.0,904.0 457.2,903.9 458.5,903.8 459.7,903.8 461.0,903.8 462.2,903.8 463.5,903.9 464.8,904.0 466.0,904.2 467.3,904.4 468.6,904.5 469.9,904.7 471.1,904.9 472.4,905.1 473.7,905.3 474.9,905.5 476.2,905.6 477.4,905.8 478.6,905.9 479.8,905.9 481.0,905.9 482.2,905.9 483.4,905.8 484.5,905.6 485.7,905.4 486.8,905.2 487.9,904.9 489.0,904.6 490.0,904.2 491.1,903.8 492.1,903.4 493.1,902.9 494.2,902.3 495.1,901.8 496.1,901.2 497.1,900.6 498.0,899.9 498.9,899.2 499.8,898.5 500.7,897.7 501.6,896.9 502.4,896.1 503.2,895.3 504.1,894.4 504.9,893.5 505.6,892.6 506.4,891.7 507.1,890.7 507.9,889.8 508.6,888.8 509.3,887.8 509.9,886.8 510.6,885.7 511.2,884.7 511.8,883.6 512.4,882.6 513.0,881.5 513.6,880.4 514.1,879.3 514.7,878.2 515.2,877.1 515.7,876.0 516.1,874.9 516.6,873.8 517.0,872.7 517.5,871.5 517.9,870.4 518.3,869.3 518.7,868.1 519.1,867.0 519.5,865.9 519.8,864.7 520.2,863.6 520.6,862.4 520.9,861.3 521.3,860.1 521.6,859.0 522.0,857.8 522.3,856.7 522.6,855.5 523.0,854.4 523.3,853.2 523.7,852.1 524.0,851.0 524.3,849.8 524.7,848.7 525.0,847.6 525.4,846.4 525.8,845.3 526.1,844.2 526.5,843.1 526.9,842.0 527.3,840.9 527.7,839.8 528.1,838.7 528.5,837.6 529.0,836.5 529.4,835.4 529.9,834.4 530.4,833.3 530.9,832.2 531.4,831.2 531.9,830.1 532.5,829.1 533.0,828.0 533.6,827.0 534.2,825.9 534.9,824.9 535.5,823.8 536.2,822.7 536.9,821.7 537.6,820.6 538.3,819.5 539.1,818.5 539.9,817.4 540.7,816.3 541.5,815.3 542.3,814.5 543.2,813.7 544.0,813.2 544.9,812.8 545.7,812.8 546.6,813.0 547.4,813.4 548.1,814.1 548.9,814.9 549.7,815.9 550.4,817.0 551.1,818.1 551.7,819.3 552.3,820.5 552.9,821.7 553.5,822.9 554.0,824.0 554.5,825.2 554.9,826.4 555.4,827.6 555.8,828.8 556.2,829.9 556.6,831.1 557.0,832.2 557.4,833.4 557.8,834.5 558.2,835.7 558.5,836.8 558.9,837.9 559.2,839.0 559.6,840.1 559.9,841.2 560.3,842.3 560.7,843.3 561.0,844.4 561.3,845.5 561.7,846.6 562.0,847.7 562.4,848.7 562.7,849.8 563.1,850.9 563.4,852.0 563.8,853.1 564.1,854.2 564.4,855.3 564.8,856.4 565.1,857.5 565.5,858.7 565.8,859.8 566.2,861.0 566.5,862.1 566.9,863.3 567.3,864.5 567.6,865.6 568.0,866.8 568.4,868.0 568.8,869.2 569.1,870.3 569.5,871.5 569.9,872.7 570.3,873.9 570.7,875.1 571.1,876.2 571.6,877.4 572.0,878.6 572.4,879.8 572.9,880.9 573.3,882.1 573.8,883.3 574.2,884.4 574.7,885.5 575.2,886.7 575.7,887.8 576.2,888.9 576.7,890.0 577.3,891.2 577.8,892.2 578.4,893.3 578.9,894.4 579.5,895.5 580.1,896.5 580.7,897.5 581.3,898.6 581.9,899.6 582.6,900.6 583.3,901.5 583.9,902.5 584.6,903.4 585.3,904.4 586.1,905.3 586.8,906.1 587.6,907.0 588.3,907.9 589.1,908.7 589.9,909.5 590.7,910.3 591.6,911.0 592.5,911.8 593.3,912.5 594.2,913.2 595.2,913.9 596.1,914.5 597.1,915.1 598.1,915.7 599.1,916.3 600.1,916.8 601.1,917.3 602.2,917.8 603.3,918.2 604.4,918.7 605.5,919.1 606.6,919.5 607.8,919.8 608.9,920.2 610.1,920.5 611.3,920.8 612.5,921.1 613.7,921.4 614.9,921.6 616.1,921.9 617.3,922.1 618.5,922.3 619.8,922.5 621.0,922.6 622.3,922.8 623.5,923.0 624.8,923.1 626.0,923.2 627.2,923.3 628.5,923.4 629.7,923.5 631.0,923.6 632.2,923.7 633.5,923.8 634.7,923.9 635.9,924.0 637.1,924.0 638.3,924.1 639.5,924.2 640.7,924.2 641.9,924.3 643.1,924.3 644.2,924.4 645.4,924.4 646.6,924.5 647.7,924.5 648.9,924.6 650.1,924.6 651.2,924.6 652.4,924.7 653.5,924.7 654.7,924.8 655.8,924.8 657.0,924.8 658.1,924.9 659.3,924.9 660.4,925.0 661.6,925.0 662.8,925.0 664.0,925.1 665.1,925.1 666.3,925.2 667.5,925.2 668.7,925.3 669.9,925.3 671.2,925.4 672.4,925.4 673.6,925.5 674.9,925.5 676.1,925.6 677.4,925.7 678.7,925.7 680.0,925.8 681.3,925.9" fill="none" stroke="#84c886" stroke-width="2.00" stroke-linejoin="round" stroke-linecap="round"/>
<path d="M149.9,926.3 151.1,926.4 152.3,926.4 153.5,926.4 154.7,926.5 156.0,926.5 157.2,926.5 158.4,926.6 159.6,926.6 160.8,926.6 162.0,926.6 163.2,926.6 164.4,926.7 165.6,926.7 166.8,926.7 168.1,926.7 169.3,926.7 170.5,926.7 171.7,926.7 172.9,926.7 174.1,926.7 175.3,926.7 176.5,926.7 177.7,926.7 178.9,926.7 180.1,926.7 181.3,926.7 182.5,926.7 183.7,926.7 184.9,926.7 186.1,926.7 187.3,926.7 188.5,926.7 189.7,926.7 190.9,926.7 192.0,926.7 193.2,926.6 194.4,926.6 195.6,926.6 196.8,926.6 198.0,926.6 199.2,926.6 200.4,926.6 201.6,926.5 202.8,926.5 204.0,926.5 205.2,926.5 206.4,926.5 207.6,926.5 208.8,926.5 210.0,926.4 211.2,926.4 212.4,926.4 213.5,926.4 214.7,926.4 215.9,926.4 217.1,926.3 218.3,926.3 219.5,926.3 220.7,926.3 221.9,926.3 223.1,926.3 224.3,926.2 225.5,926.2 226.7,926.2 227.9,926.2 229.1,926.2 230.3,926.2 231.5,926.2 232.7,926.2 233.9,926.2 235.1,926.1 236.3,926.1 237.5,926.1 238.7,926.1 239.9,926.1 241.1,926.1 242.3,926.1 243.5,926.1 244.7,926.1 245.9,926.1 247.1,926.1 248.3,926.1 249.5,926.1 250.7,926.1 251.9,926.1 253.1,926.2 254.3,926.2 255.5,926.2 256.7,926.2 257.9,926.2 259.1,926.2 260.4,926.2 261.6,926.3 262.8,926.3 264.0,926.3 265.2,926.3 266.4,926.4 267.6,926.4 268.9,926.4 270.1,926.4 271.3,926.4 272.5,926.5 273.7,926.5 274.9,926.5 276.1,926.5 277.3,926.5 278.6,926.5 279.8,926.4 281.0,926.4 282.2,926.4 283.4,926.3 284.6,926.3 285.8,926.2 287.0,926.1 288.2,926.1 289.4,926.0 290.5,925.8 291.7,925.7 292.9,925.6 294.1,925.4 295.3,925.3 296.4,925.1 297.6,924.9 298.8,924.7 299.9,924.4 301.1,924.2 302.2,923.9 303.4,923.6 304.5,923.3 305.7,923.0 306.8,922.6 307.9,922.2 309.1,921.8 310.2,921.4 311.3,921.0 312.4,920.5 313.5,920.0 314.6,919.5 315.7,919.0 316.7,918.4 317.8,917.9 318.8,917.3 319.9,916.7 320.9,916.0 321.9,915.4 322.9,914.7 323.9,914.1 324.9,913.4 325.9,912.7 326.9,911.9 327.8,911.2 328.7,910.4 329.7,909.7 330.6,908.9 331.5,908.1 332.3,907.3 333.2,906.4 334.0,905.6 334.8,904.7 335.6,903.9 336.4,903.0 337.2,902.1 337.9,901.2 338.7,900.3 339.4,899.4 340.1,898.4 340.8,897.5 341.5,896.5 342.1,895.6 342.7,894.6 343.4,893.6 344.0,892.6 344.6,891.6 345.2,890.6 345.7,889.5 346.3,888.5 346.8,887.5 347.4,886.4 347.9,885.4 348.4,884.3 348.9,883.2 349.3,882.1 349.8,881.0 350.3,880.0 350.7,878.9 351.2,877.7 351.6,876.6 352.0,875.5 352.4,874.4 352.8,873.2 353.2,872.1 353.5,871.0 353.9,869.8 354.3,868.7 354.6,867.5 354.9,866.3 355.3,865.2 355.6,864.0 355.9,862.8 356.2,861.6 356.5,860.5 356.8,859.3 357.1,858.1 357.4,856.9 357.6,855.7 357.9,854.5 358.2,853.3 358.4,852.1 358.7,850.9 358.9,849.7 359.1,848.5 359.4,847.3 359.6,846.1 359.8,844.9 360.1,843.7 360.3,842.5 360.5,841.3 360.7,840.1 360.9,838.9 361.1,837.7 361.3,836.5 361.5,835.3 361.7,834.1 361.9,832.9 362.1,831.7 362.3,830.5 362.5,829.3 362.7,828.1 362.9,826.9 363.1,825.7 363.3,824.5 363.5,823.3 363.7,822.2 363.9,821.0 364.0,819.8 364.2,818.6 364.4,817.4 364.6,816.2 364.8,815.0 364.9,813.9 365.1,812.7 365.3,811.5 365.4,810.3 365.6,809.2 365.8,808.0 366.0,806.8 366.1,805.6 366.3,804.4 366.4,803.3 366.6,802.1 366.8,800.9 366.9,799.7 367.1,798.6 367.2,797.4 367.4,796.2 367.5,795.0 367.7,793.9 367.8,792.7 368.0,791.5 368.1,790.3 368.3,789.2 368.4,788.0 368.6,786.8 368.7,785.6 368.9,784.5 369.0,783.3 369.1,782.1 369.3,780.9 369.4,779.7 369.6,778.6 369.7,777.4 369.8,776.2 370.0,775.0 370.1,773.8 370.2,772.7 370.3,771.5 370.5,770.3 370.6,769.1 370.7,767.9 370.9,766.7 371.0,765.5 371.1,764.3 371.2,763.2 371.3,762.0 371.5,760.8 371.6,759.6 371.7,758.4 371.8,757.2 371.9,756.0 372.0,754.8 372.2,753.6 372.3,752.4 372.4,751.2 372.5,750.0 372.6,748.8 372.7,747.6 372.8,746.4 372.9,745.1 373.0,743.9 373.2,742.7 373.3,741.5 373.4,740.3 373.5,739.1 373.6,737.9 373.7,736.7 373.8,735.5 373.9,734.3 374.0,733.1 374.1,731.9 374.2,730.7 374.3,729.5 374.4,728.2 374.5,727.0 374.6,725.8 374.7,724.6 374.8,723.4 374.9,722.2 375.0,721.0 375.1,719.8 375.2,718.6 375.3,717.4 375.4,716.2 375.5,715.0 375.6,713.8 375.7,712.6 375.8,711.5 375.9,710.3 376.0,709.1 376.1,707.9 376.3,706.7 376.4,705.5 376.5,704.3 376.6,703.1 376.7,701.9 376.8,700.7 376.9,699.6 377.0,698.4 377.1,697.2 377.2,696.0 377.3,694.8 377.4,693.6 377.5,692.4 377.6,691.2 377.7,690.1 377.8,688.9 377.9,687.7 378.0,686.5 378.1,685.3 378.2,684.1 378.3,682.9 378.4,681.7 378.5,680.6 378.6,679.4 378.7,678.2 378.8,677.0 378.9,675.8 379.0,674.6 379.1,673.4 379.2,672.2 379.3,671.0 379.4,669.8 379.5,668.6 379.6,667.4 379.7,666.2 379.8,665.0 379.9,663.8 380.0,662.6 380.1,661.4 380.2,660.2 380.3,659.0 380.4,657.8 380.5,656.6 380.7,655.4 380.8,654.2 380.9,653.0 381.0,651.8 381.1,650.6 381.2,649.4 381.3,648.2 381.4,647.0 381.6,645.8 381.7,644.6 381.8,643.4 381.9,642.2 382.1,641.0 382.2,639.8 382.3,638.6 382.4,637.4 382.6,636.2 382.7,635.0 382.8,633.9 383.0,632.7 383.1,631.5 383.3,630.3 383.4,629.1 383.6,627.9 383.7,626.7 383.9,625.5 384.0,624.4 384.2,623.2 384.3,622.0 384.5,620.8 384.7,619.6 384.8,618.5 385.0,617.3 385.2,616.1 385.4,614.9 385.6,613.8 385.8,612.6 386.0,611.4 386.2,610.2 386.4,609.1 386.6,607.9 386.8,606.7 387.0,605.5 387.3,604.3 387.5,603.1 387.8,602.0 388.0,600.8 388.3,599.6 388.6,598.4 388.8,597.2 389.1,596.0 389.4,594.8 389.8,593.6 390.1,592.5 390.6,591.3 391.1,590.3 391.8,589.3 392.5,588.4 393.5,587.6 394.6,586.9 395.7,586.5 396.8,586.4 397.8,586.7 398.8,587.2 399.7,588.0 400.6,588.9 401.4,589.9 402.2,591.0 402.9,592.2 403.5,593.3 404.1,594.4 404.6,595.5 405.1,596.6 405.5,597.7 405.9,598.8 406.2,599.9 406.6,601.0 406.9,602.2 407.1,603.3 407.4,604.4 407.7,605.5 407.9,606.6 408.2,607.8 408.4,608.9 408.7,610.1 408.9,611.3 409.2,612.4 409.4,613.6 409.6,614.8 409.9,616.0 410.1,617.2 410.3,618.4 410.5,619.6 410.7,620.8 410.9,621.9 411.1,623.1 411.3,624.3 411.5,625.5 411.7,626.7 411.9,627.9 412.0,629.1 412.2,630.3 412.4,631.5 412.6,632.7 412.7,633.9 412.9,635.1 413.1,636.3 413.2,637.5 413.4,638.7 413.6,639.8 413.7,641.0 413.9,642.2 414.1,643.4 414.2,644.6 414.4,645.8 414.5,647.0 414.7,648.2 414.9,649.4 415.0,650.5 415.2,651.7 415.3,652.9 415.5,654.1 415.7,655.3 415.8,656.5 416.0,657.7 416.1,658.9 416.3,660.1 416.4,661.2 416.6,662.4 416.8,663.6 416.9,664.8 417.1,666.0 417.2,667.2 417.4,668.4 417.5,669.6 417.7,670.7 417.8,671.9 418.0,673.1 418.2,674.3 418.3,675.5 418.5,676.7 418.6,677.9 418.8,679.0 418.9,680.2 419.1,681.4 419.2,682.6 419.4,683.8 419.6,685.0 419.7,686.2 419.9,687.3 420.0,688.5 420.2,689.7 420.3,690.9 420.5,692.1 420.6,693.3 420.8,694.5 421.0,695.7 421.1,696.8 421.3,698.0 421.4,699.2 421.6,700.4 421.7,701.6 421.9,702.8 422.1,704.0 422.2,705.1 422.4,706.3 422.5,707.5 422.7,708.7 422.8,709.9 423.0,711.1 423.2,712.3 423.3,713.5 423.5,714.6 423.6,715.8 423.8,717.0 423.9,718.2 424.1,719.4 424.3,720.6 424.4,721.8 424.6,723.0 424.7,724.2 424.9,725.3 425.1,726.5 425.2,727.7 425.4,728.9 425.6,730.1 425.7,731.3 425.9,732.5 426.1,733.7 426.2,734.9 426.4,736.1 426.5,737.2 426.7,738.4 426.9,739.6 427.0,740.8 427.2,742.0 427.4,743.2 427.5,744.4 427.7,745.6 427.9,746.8 428.0,748.0 428.2,749.2 428.4,750.4 428.6,751.5 428.7,752.7 428.9,753.9 429.1,755.1 429.2,756.3 429.4,757.5 429.6,758.7 429.7,759.9 429.9,761.1 430.1,762.3 430.3,763.5 430.4,764.7 430.6,765.9 430.8,767.0 430.9,768.2 431.1,769.4 431.3,770.6 431.5,771.8 431.6,773.0 431.8,774.2 432.0,775.4 432.1,776.6 432.3,777.8 432.5,779.0 432.7,780.1 432.8,781.3 433.0,782.5 433.2,783.7 433.3,784.9 433.5,786.1 433.7,787.3 433.9,788.5 434.0,789.7 434.2,790.9 434.4,792.0 434.5,793.2 434.7,794.4 434.9,795.6 435.1,796.8 435.2,798.0 435.4,799.2 435.6,800.4 435.7,801.5 435.9,802.7 436.1,803.9 436.2,805.1 436.4,806.3 436.6,807.5 436.8,808.7 436.9,809.8 437.1,811.0 437.3,812.2 437.4,813.4 437.6,814.6 437.8,815.8 437.9,816.9 438.1,818.1 438.3,819.3 438.4,820.5 438.6,821.7 438.8,822.8 438.9,824.0 439.1,825.2 439.3,826.4 439.4,827.5 439.6,828.7 439.8,829.9 439.9,831.1 440.1,832.3 440.3,833.4 440.4,834.6 440.6,835.8 440.8,837.0 440.9,838.1 441.1,839.3 441.3,840.5 441.4,841.7 441.6,842.8 441.8,844.0 442.0,845.2 442.1,846.4 442.3,847.6 442.5,848.7 442.6,849.9 442.8,851.1 443.0,852.3 443.2,853.4 443.4,854.6 443.5,855.8 443.7,857.0 443.9,858.2 444.1,859.4 444.3,860.5 444.5,861.7 444.7,862.9 444.9,864.1 445.0,865.3 445.2,866.5 445.4,867.7 445.6,868.8 445.8,870.0 446.0,871.2 446.3,872.4 446.5,873.6 446.7,874.8 446.9,876.0 447.1,877.2 447.3,878.4 447.5,879.6 447.8,880.8 448.0,882.0 448.2,883.2 448.4,884.4 448.7,885.6 448.9,886.8 449.2,888.0 449.4,889.2 449.6,890.5 449.9,891.7 450.1,892.9 450.4,894.1 450.7,895.3 450.9,896.6 451.2,897.8 451.5,899.0 451.7,900.2 452.0,901.5 452.3,902.7 452.6,903.9 452.9,905.1 453.3,906.2 453.6,907.4 454.0,908.5 454.4,909.6 454.9,910.7 455.3,911.7 455.8,912.7 456.4,913.6 457.0,914.5 457.6,915.4 458.3,916.2 459.0,916.9 459.8,917.5 460.7,918.1 461.6,918.6 462.6,919.1 463.6,919.5 464.7,919.8 465.8,920.0 466.9,920.2 468.1,920.3 469.3,920.4 470.5,920.4 471.8,920.3 473.0,920.3 474.3,920.1 475.6,919.9 476.8,919.7 478.1,919.4 479.3,919.1 480.5,918.8 481.7,918.4 482.9,918.0 484.0,917.6 485.2,917.1 486.3,916.7 487.4,916.1 488.4,915.6 489.5,915.0 490.5,914.4 491.5,913.8 492.5,913.1 493.5,912.5 494.4,911.7 495.4,911.0 496.3,910.3 497.2,909.5 498.1,908.7 498.9,907.9 499.8,907.1 500.6,906.2 501.5,905.3 502.3,904.4 503.1,903.5 503.8,902.6 504.6,901.7 505.3,900.7 506.1,899.8 506.8,898.8 507.5,897.8 508.2,896.8 508.9,895.8 509.5,894.8 510.2,893.8 510.8,892.8 511.5,891.7 512.1,890.7 512.7,889.7 513.3,888.6 513.8,887.6 514.4,886.5 514.9,885.5 515.5,884.4 516.0,883.3 516.5,882.3 517.0,881.2 517.5,880.1 518.0,879.0 518.4,877.9 518.9,876.8 519.3,875.7 519.8,874.6 520.2,873.5 520.6,872.4 521.0,871.3 521.4,870.2 521.8,869.0 522.2,867.9 522.6,866.8 522.9,865.7 523.3,864.5 523.6,863.4 523.9,862.2 524.3,861.1 524.6,860.0 524.9,858.8 525.2,857.6 525.5,856.5 525.8,855.3 526.1,854.2 526.3,853.0 526.6,851.8 526.9,850.7 527.1,849.5 527.4,848.3 527.6,847.2 527.8,846.0 528.1,844.8 528.3,843.6 528.5,842.4 528.7,841.2 528.9,840.1 529.2,838.9 529.4,837.7 529.6,836.5 529.7,835.3 529.9,834.1 530.1,832.9 530.3,831.7 530.5,830.5 530.7,829.3 530.8,828.1 531.0,826.9 531.2,825.7 531.3,824.5 531.5,823.3 531.7,822.1 531.8,820.9 532.0,819.7 532.2,818.5 532.3,817.3 532.5,816.1 532.6,814.9 532.8,813.7 532.9,812.5 533.1,811.3 533.2,810.1 533.4,808.9 533.6,807.7 533.7,806.5 533.9,805.3 534.0,804.1 534.2,802.9 534.3,801.7 534.5,800.5 534.7,799.3 534.8,798.2 535.0,797.0 535.2,795.8 535.3,794.6 535.5,793.4 535.7,792.2 535.8,791.0 536.0,789.8 536.2,788.7 536.4,787.5 536.5,786.3 536.7,785.1 536.9,784.0 537.0,782.8 537.2,781.6 537.4,780.5 537.6,779.3 537.7,778.1 537.9,777.0 538.1,775.8 538.2,774.7 538.4,773.5 538.6,772.4 538.7,771.2 538.9,770.1 539.1,769.0 539.2,767.8 539.4,766.7 539.5,765.6 539.7,764.4 539.9,763.3 540.1,762.1 540.3,761.0 540.6,759.7 540.9,758.5 541.2,757.2 541.6,755.8 542.1,754.4 542.6,753.1 543.2,751.9 543.9,750.9 544.6,750.3 545.3,750.2 546.1,750.7 546.8,751.5 547.5,752.6 548.2,753.9 548.8,755.3 549.3,756.6 549.7,757.9 549.9,759.0 550.2,760.1 550.3,761.2 550.5,762.3 550.7,763.4 550.9,764.5 551.1,765.6 551.3,766.7 551.5,767.9 551.7,769.0 552.0,770.2 552.2,771.4 552.5,772.6 552.7,773.8 553.0,775.0 553.3,776.2 553.5,777.4 553.8,778.5 554.1,779.7 554.3,780.9 554.6,782.1 554.9,783.3 555.1,784.5 555.4,785.6 555.7,786.8 556.0,788.0 556.2,789.1 556.5,790.3 556.8,791.4 557.1,792.6 557.3,793.7 557.6,794.9 557.9,796.0 558.2,797.2 558.5,798.3 558.8,799.5 559.2,800.6 559.5,801.8 559.8,803.0 560.1,804.1 560.5,805.3 560.8,806.4 561.1,807.6 561.5,808.7 561.8,809.9 562.2,811.0 562.5,812.2 562.9,813.3 563.2,814.5 563.6,815.6 563.9,816.8 564.3,817.9 564.7,819.1 565.0,820.2 565.4,821.4 565.7,822.5 566.1,823.7 566.5,824.8 566.8,826.0 567.2,827.1 567.5,828.3 567.9,829.4 568.2,830.6 568.6,831.7 568.9,832.9 569.3,834.1 569.6,835.2 569.9,836.4 570.3,837.5 570.6,838.7 570.9,839.8 571.2,841.0 571.5,842.1 571.8,843.3 572.2,844.4 572.5,845.6 572.8,846.7 573.0,847.9 573.3,849.0 573.6,850.2 573.9,851.3 574.2,852.5 574.5,853.7 574.8,854.8 575.1,856.0 575.4,857.1 575.7,858.3 576.0,859.4 576.3,860.6 576.6,861.7 576.9,862.9 577.2,864.0 577.5,865.2 577.8,866.3 578.1,867.5 578.5,868.6 578.8,869.8 579.1,870.9 579.5,872.0 579.9,873.2 580.2,874.3 580.6,875.5 581.0,876.6 581.4,877.8 581.8,878.9 582.2,880.0 582.6,881.2 583.0,882.3 583.5,883.5 583.9,884.6 584.4,885.7 584.9,886.9 585.4,888.0 585.9,889.1 586.4,890.2 586.9,891.3 587.5,892.4 588.0,893.5 588.6,894.6 589.2,895.7 589.8,896.7 590.5,897.8 591.1,898.8 591.8,899.8 592.4,900.8 593.1,901.8 593.8,902.7 594.6,903.7 595.3,904.6 596.1,905.5 596.8,906.4 597.6,907.2 598.5,908.0 599.3,908.8 600.1,909.6 601.0,910.3 601.9,911.0 602.8,911.7 603.8,912.4 604.7,913.0 605.7,913.6 606.7,914.2 607.7,914.7 608.7,915.2 609.7,915.8 610.8,916.2 611.8,916.7 612.9,917.1 614.0,917.6 615.1,918.0 616.2,918.3 617.3,918.7 618.4,919.0 619.6,919.4 620.7,919.7 621.9,920.0 623.1,920.2 624.3,920.5 625.4,920.7 626.6,921.0 627.8,921.2 629.1,921.4 630.3,921.6 631.5,921.8 632.7,921.9 634.0,922.1 635.2,922.2 636.4,922.4 637.7,922.5 638.9,922.6 640.2,922.7 641.4,922.8 642.7,922.9 643.9,923.0 645.2,923.1 646.4,923.2 647.7,923.2 648.9,923.3 650.2,923.4 651.4,923.4 652.6,923.5 653.9,923.5 655.1,923.6 656.3,923.7 657.6,923.7 658.8,923.8 660.0,923.8 661.2,923.9 662.4,924.0 663.6,924.0 664.8,924.1 666.0,924.2 667.1,924.2 668.3,924.3 669.4,924.4 670.6,924.5 671.7,924.6 672.8,924.7 673.9,924.8 675.0,925.0 676.1,925.1 677.1,925.2 678.2,925.4 679.2,925.6 680.2,925.7" fill="none" stroke="#747474" stroke-width="1.90" stroke-linejoin="round" stroke-linecap="round"/>
<path d="M136.4,925.7 137.5,925.6 138.7,925.6 139.8,925.5 141.0,925.5 142.2,925.5 143.4,925.5 144.5,925.5 145.7,925.5 146.9,925.6 148.1,925.6 149.3,925.6 150.5,925.7 151.7,925.7 152.9,925.8 154.1,925.8 155.3,925.9 156.6,925.9 157.8,926.0 159.0,926.0 160.2,926.0 161.4,926.1 162.6,926.1 163.8,926.1 165.0,926.1 166.3,926.1 167.5,926.1 168.7,926.1 169.9,926.0 171.1,926.0 172.3,925.9 173.5,925.8 174.7,925.7 175.9,925.6 177.0,925.4 178.2,925.3 179.4,925.1 180.6,924.9 181.7,924.6 182.9,924.4 184.1,924.1 185.2,923.8 186.4,923.5 187.5,923.2 188.6,922.9 189.8,922.5 190.9,922.2 192.1,921.8 193.2,921.4 194.3,921.1 195.5,920.7 196.6,920.3 197.7,919.9 198.9,919.4 200.0,919.0 201.1,918.6 202.2,918.2 203.4,917.8 204.5,917.4 205.6,917.0 206.8,916.5 207.9,916.1 209.1,915.7 210.2,915.3 211.3,915.0 212.5,914.6 213.6,914.2 214.8,913.9 215.9,913.5 217.1,913.2 218.3,912.8 219.4,912.5 220.6,912.2 221.8,912.0 222.9,911.7 224.1,911.5 225.3,911.2 226.5,911.0 227.6,910.8 228.8,910.6 230.0,910.5 231.2,910.3 232.4,910.2 233.5,910.1 234.7,910.0 235.9,909.9 237.1,909.9 238.3,909.9 239.4,909.9 240.6,909.9 241.8,909.9 243.0,910.0 244.1,910.1 245.3,910.2 246.5,910.4 247.6,910.5 248.8,910.7 250.0,911.0 251.1,911.2 252.3,911.5 253.4,911.8 254.6,912.1 255.7,912.5 256.8,912.9 258.0,913.3 259.1,913.7 260.3,914.1 261.4,914.5 262.6,914.9 263.8,915.2 265.0,915.5 266.2,915.7 267.5,915.8 268.8,915.9 270.1,915.9 271.4,915.7 272.7,915.5 273.9,915.2 275.1,914.8 276.2,914.3 277.2,913.7 278.1,913.0 279.0,912.3 279.8,911.5 280.5,910.7 281.2,909.8 281.9,908.8 282.5,907.8 283.0,906.8 283.6,905.7 284.1,904.7 284.6,903.6 285.0,902.5 285.5,901.4 285.9,900.3 286.3,899.1 286.7,898.0 287.2,896.9 287.5,895.8 287.9,894.6 288.3,893.5 288.7,892.4 289.0,891.2 289.3,890.1 289.7,888.9 290.0,887.8 290.3,886.6 290.6,885.5 290.9,884.3 291.2,883.2 291.4,882.0 291.7,880.8 292.0,879.6 292.2,878.5 292.5,877.3 292.7,876.1 293.0,874.9 293.2,873.8 293.4,872.6 293.6,871.4 293.8,870.2 294.0,869.0 294.2,867.8 294.4,866.6 294.6,865.5 294.8,864.3 295.0,863.1 295.2,861.9 295.4,860.7 295.5,859.5 295.7,858.3 295.9,857.1 296.1,855.9 296.2,854.7 296.4,853.6 296.6,852.4 296.7,851.2 296.9,850.0 297.1,848.8 297.2,847.6 297.4,846.4 297.5,845.2 297.7,844.0 297.8,842.8 298.0,841.6 298.1,840.5 298.3,839.3 298.4,838.1 298.6,836.9 298.7,835.7 298.9,834.5 299.0,833.3 299.2,832.1 299.3,830.9 299.4,829.7 299.6,828.6 299.7,827.4 299.8,826.2 300.0,825.0 300.1,823.8 300.2,822.6 300.4,821.4 300.5,820.2 300.6,819.0 300.7,817.8 300.9,816.7 301.0,815.5 301.1,814.3 301.2,813.1 301.4,811.9 301.5,810.7 301.6,809.5 301.7,808.3 301.8,807.1 301.9,805.9 302.1,804.7 302.2,803.5 302.3,802.3 302.4,801.2 302.5,800.0 302.6,798.8 302.7,797.6 302.8,796.4 302.9,795.2 303.0,794.0 303.1,792.8 303.2,791.6 303.3,790.4 303.4,789.2 303.5,788.0 303.6,786.8 303.7,785.6 303.8,784.4 303.9,783.2 304.0,782.0 304.1,780.9 304.2,779.7 304.3,778.5 304.4,777.3 304.5,776.1 304.6,774.9 304.7,773.7 304.7,772.5 304.8,771.3 304.9,770.1 305.0,768.9 305.1,767.7 305.2,766.5 305.3,765.3 305.3,764.1 305.4,762.9 305.5,761.7 305.6,760.5 305.7,759.3 305.8,758.1 305.8,756.9 305.9,755.7 306.0,754.5 306.1,753.3 306.2,752.1 306.2,750.9 306.3,749.7 306.4,748.6 306.5,747.4 306.6,746.2 306.6,745.0 306.7,743.8 306.8,742.6 306.9,741.4 306.9,740.2 307.0,739.0 307.1,737.8 307.2,736.6 307.3,735.4 307.3,734.2 307.4,733.0 307.5,731.8 307.6,730.6 307.6,729.4 307.7,728.2 307.8,727.0 307.9,725.8 307.9,724.6 308.0,723.4 308.1,722.2 308.1,721.0 308.2,719.8 308.3,718.6 308.4,717.4 308.4,716.2 308.5,715.0 308.6,713.8 308.7,712.6 308.7,711.4 308.8,710.2 308.9,709.0 309.0,707.8 309.0,706.6 309.1,705.4 309.2,704.2 309.3,703.0 309.3,701.8 309.4,700.6 309.5,699.4 309.6,698.2 309.6,697.1 309.7,695.9 309.8,694.7 309.8,693.5 309.9,692.3 310.0,691.1 310.1,689.9 310.1,688.7 310.2,687.5 310.3,686.3 310.4,685.1 310.4,683.9 310.5,682.7 310.6,681.5 310.7,680.3 310.7,679.1 310.8,677.9 310.9,676.7 310.9,675.5 311.0,674.3 311.1,673.1 311.2,671.9 311.2,670.7 311.3,669.5 311.4,668.3 311.4,667.1 311.5,665.9 311.6,664.7 311.7,663.5 311.7,662.3 311.8,661.1 311.9,659.9 311.9,658.7 312.0,657.5 312.1,656.3 312.2,655.1 312.2,654.0 312.3,652.8 312.4,651.6 312.4,650.4 312.5,649.2 312.6,648.0 312.6,646.8 312.7,645.6 312.8,644.4 312.9,643.2 312.9,642.0 313.0,640.8 313.1,639.6 313.1,638.4 313.2,637.2 313.3,636.0 313.3,634.8 313.4,633.6 313.5,632.4 313.5,631.2 313.6,630.0 313.7,628.8 313.7,627.6 313.8,626.4 313.9,625.2 313.9,624.0 314.0,622.8 314.1,621.6 314.1,620.4 314.2,619.2 314.2,618.1 314.3,616.9 314.4,615.7 314.4,614.5 314.5,613.3 314.6,612.1 314.6,610.9 314.7,609.7 314.7,608.5 314.8,607.3 314.9,606.1 314.9,604.9 315.0,603.7 315.1,602.5 315.1,601.3 315.2,600.1 315.2,598.9 315.3,597.7 315.4,596.5 315.4,595.3 315.5,594.1 315.6,592.9 315.6,591.7 315.7,590.5 315.8,589.3 315.8,588.1 315.9,586.9 316.0,585.7 316.1,584.5 316.1,583.3 316.2,582.2 316.3,581.0 316.4,579.8 316.5,578.6 316.5,577.4 316.6,576.2 316.7,575.0 316.8,573.8 316.9,572.6 317.0,571.4 317.1,570.2 317.2,569.0 317.3,567.8 317.4,566.6 317.5,565.4 317.7,564.1 317.8,562.9 317.9,561.7 318.0,560.5 318.2,559.3 318.3,558.1 318.4,556.9 318.5,555.7 318.7,554.6 318.8,553.4 318.9,552.2 319.0,551.0 319.1,549.8 319.2,548.7 319.3,547.5 319.4,546.4 319.5,545.2 319.6,544.1 319.6,542.9 319.7,541.8 319.8,540.6 319.8,539.5 320.0,538.2 320.1,537.0 320.2,535.7 320.5,534.3 320.7,533.0 321.1,531.7 321.6,530.5 322.2,529.6 322.9,529.1 323.5,529.3 324.0,530.1 324.5,531.3 324.9,532.9 325.2,534.6 325.5,536.2 325.7,537.6 325.9,538.7 326.0,539.6 326.0,540.5 326.1,541.3 326.2,542.3 326.3,543.4 326.4,544.5 326.5,545.7 326.6,547.0 326.7,548.2 326.9,549.5 327.0,550.7 327.1,551.9 327.2,553.2 327.4,554.4 327.5,555.6 327.6,556.8 327.7,558.0 327.8,559.2 327.9,560.4 328.0,561.6 328.1,562.7 328.2,563.9 328.3,565.1 328.4,566.3 328.5,567.5 328.6,568.7 328.7,569.8 328.8,571.0 328.9,572.2 329.0,573.4 329.1,574.6 329.2,575.8 329.3,577.0 329.4,578.2 329.4,579.4 329.5,580.6 329.6,581.8 329.7,583.0 329.8,584.2 329.8,585.3 329.9,586.5 330.0,587.7 330.0,588.9 330.1,590.1 330.2,591.3 330.3,592.5 330.3,593.7 330.4,594.9 330.5,596.1 330.5,597.4 330.6,598.6 330.7,599.8 330.7,601.0 330.8,602.2 330.9,603.4 330.9,604.6 331.0,605.8 331.1,607.0 331.1,608.2 331.2,609.4 331.3,610.6 331.3,611.8 331.4,613.0 331.4,614.2 331.5,615.4 331.6,616.6 331.6,617.8 331.7,619.0 331.8,620.2 331.8,621.4 331.9,622.6 332.0,623.8 332.1,625.0 332.1,626.2 332.2,627.4 332.3,628.6 332.3,629.8 332.4,631.0 332.5,632.2 332.5,633.4 332.6,634.6 332.7,635.8 332.8,637.0 332.8,638.1 332.9,639.3 333.0,640.5 333.1,641.7 333.1,642.9 333.2,644.1 333.3,645.3 333.4,646.5 333.4,647.7 333.5,648.9 333.6,650.1 333.7,651.3 333.7,652.5 333.8,653.7 333.9,654.9 334.0,656.1 334.0,657.3 334.1,658.4 334.2,659.6 334.3,660.8 334.4,662.0 334.4,663.2 334.5,664.4 334.6,665.6 334.7,666.8 334.8,668.0 334.8,669.2 334.9,670.4 335.0,671.6 335.1,672.8 335.2,674.0 335.3,675.2 335.3,676.3 335.4,677.5 335.5,678.7 335.6,679.9 335.7,681.1 335.8,682.3 335.9,683.5 335.9,684.7 336.0,685.9 336.1,687.1 336.2,688.3 336.3,689.5 336.4,690.7 336.5,691.9 336.6,693.1 336.6,694.2 336.7,695.4 336.8,696.6 336.9,697.8 337.0,699.0 337.1,700.2 337.2,701.4 337.3,702.6 337.4,703.8 337.5,705.0 337.5,706.2 337.6,707.4 337.7,708.6 337.8,709.8 337.9,711.0 338.0,712.2 338.1,713.4 338.2,714.6 338.3,715.8 338.4,717.0 338.5,718.2 338.6,719.4 338.7,720.6 338.8,721.8 338.9,723.0 339.0,724.2 339.1,725.4 339.2,726.6 339.3,727.8 339.4,729.0 339.5,730.2 339.6,731.4 339.7,732.6 339.8,733.8 339.9,735.0 340.0,736.2 340.1,737.4 340.2,738.6 340.3,739.8 340.4,741.0 340.5,742.2 340.6,743.4 340.7,744.6 340.8,745.8 340.9,747.0 341.0,748.2 341.1,749.4 341.3,750.6 341.4,751.8 341.5,753.0 341.6,754.2 341.7,755.4 341.8,756.6 341.9,757.8 342.1,759.0 342.2,760.2 342.3,761.4 342.4,762.6 342.5,763.8 342.7,765.0 342.8,766.2 342.9,767.4 343.0,768.5 343.2,769.7 343.3,770.9 343.4,772.1 343.6,773.3 343.7,774.5 343.8,775.7 344.0,776.9 344.1,778.1 344.2,779.3 344.4,780.5 344.5,781.7 344.7,782.8 344.8,784.0 344.9,785.2 345.1,786.4 345.2,787.6 345.4,788.8 345.5,790.0 345.7,791.1 345.8,792.3 346.0,793.5 346.2,794.7 346.3,795.9 346.5,797.0 346.6,798.2 346.8,799.4 347.0,800.6 347.1,801.8 347.3,802.9 347.5,804.1 347.6,805.3 347.8,806.4 348.0,807.6 348.2,808.8 348.3,810.0 348.5,811.1 348.7,812.3 348.9,813.5 349.1,814.6 349.3,815.8 349.5,816.9 349.7,818.1 349.9,819.3 350.1,820.4 350.3,821.6 350.5,822.8 350.7,823.9 350.9,825.1 351.1,826.3 351.4,827.4 351.6,828.6 351.8,829.8 352.1,831.0 352.3,832.1 352.6,833.3 352.8,834.5 353.1,835.7 353.4,836.9 353.6,838.1 353.9,839.3 354.2,840.4 354.5,841.6 354.8,842.8 355.1,844.0 355.4,845.3 355.7,846.5 356.1,847.7 356.4,848.9 356.7,850.1 357.1,851.3 357.5,852.5 357.9,853.7 358.2,854.9 358.7,856.1 359.1,857.3 359.5,858.5 360.0,859.6 360.5,860.7 361.0,861.9 361.5,862.9 362.0,864.0 362.6,865.0 363.2,866.0 363.8,867.0 364.4,868.0 365.1,868.9 365.8,869.8 366.5,870.6 367.3,871.4 368.1,872.2 368.9,872.9 369.7,873.5 370.6,874.1 371.5,874.7 372.5,875.2 373.5,875.7 374.5,876.1 375.6,876.4 376.7,876.7 377.8,877.0 379.0,877.2 380.2,877.3 381.4,877.4 382.6,877.5 383.9,877.5 385.1,877.5 386.4,877.5 387.6,877.4 388.9,877.3 390.2,877.2 391.4,877.1 392.7,876.9 393.9,876.8 395.2,876.6 396.4,876.4 397.6,876.2 398.8,876.0 400.0,875.8 401.2,875.7 402.4,875.5 403.6,875.4 404.7,875.3 405.9,875.2 407.0,875.1 408.2,875.1 409.3,875.1 410.4,875.2 411.5,875.3 412.6,875.4 413.8,875.7 414.9,875.9 416.0,876.3 417.0,876.7 418.1,877.1 419.2,877.6 420.3,878.2 421.3,878.8 422.4,879.4 423.4,880.1 424.5,880.8 425.5,881.5 426.5,882.2 427.5,883.0 428.5,883.8 429.5,884.6 430.4,885.4 431.4,886.2 432.3,887.0 433.3,887.8 434.2,888.6 435.1,889.4 436.0,890.2 436.9,891.0 437.8,891.8 438.7,892.5 439.6,893.3 440.5,894.0 441.5,894.7 442.4,895.4 443.4,896.0 444.3,896.7 445.4,897.3 446.4,897.8 447.5,898.4 448.5,898.9 449.7,899.3 450.8,899.7 451.9,900.0 453.1,900.1 454.3,900.2 455.5,900.1 456.6,899.9 457.8,899.6 459.0,899.1 460.2,898.6 461.3,898.0 462.5,897.5 463.6,897.0 464.8,896.7 465.9,896.5 467.0,896.4 468.2,896.4 469.3,896.6 470.4,896.8 471.5,897.0 472.7,897.4 473.8,897.7 474.9,898.1 476.1,898.5 477.2,898.9 478.4,899.3 479.6,899.7 480.7,900.0 482.0,900.2 483.2,900.5 484.4,900.7 485.6,900.8 486.8,900.9 488.1,901.0 489.3,901.0 490.5,901.0 491.8,901.0 493.0,900.9 494.2,900.7 495.4,900.5 496.6,900.3 497.7,900.0 498.9,899.7 500.0,899.3 501.1,898.8 502.2,898.4 503.2,897.8 504.3,897.3 505.3,896.6 506.3,896.0 507.2,895.3 508.2,894.6 509.1,893.8 510.0,893.1 510.8,892.3 511.7,891.4 512.5,890.6 513.2,889.7 514.0,888.8 514.7,887.9 515.4,886.9 516.1,886.0 516.7,885.0 517.3,884.0 517.9,883.0 518.5,882.0 519.0,881.0 519.5,879.9 520.0,878.9 520.5,877.8 521.0,876.7 521.4,875.6 521.8,874.5 522.2,873.4 522.6,872.3 523.0,871.2 523.3,870.0 523.7,868.9 524.0,867.7 524.3,866.6 524.6,865.4 524.9,864.2 525.2,863.0 525.5,861.8 525.7,860.6 526.0,859.4 526.2,858.2 526.5,857.0 526.7,855.8 527.0,854.6 527.2,853.4 527.4,852.2 527.6,851.0 527.8,849.8 528.1,848.6 528.3,847.4 528.5,846.2 528.7,844.9 528.9,843.7 529.1,842.5 529.4,841.4 529.6,840.2 529.8,839.0 530.1,837.8 530.3,836.6 530.6,835.5 530.8,834.3 531.1,833.1 531.3,832.0 531.6,830.8 531.8,829.6 532.1,828.5 532.4,827.3 532.7,826.2 532.9,825.0 533.2,823.9 533.5,822.8 533.8,821.6 534.1,820.5 534.4,819.3 534.7,818.2 535.0,817.1 535.4,815.9 535.7,814.8 536.0,813.7 536.3,812.5 536.7,811.4 537.0,810.3 537.4,809.1 537.7,808.0 538.1,806.8 538.4,805.7 538.8,804.6 539.1,803.4 539.5,802.3 539.9,801.1 540.3,800.0 540.7,798.8 541.1,797.7 541.5,796.6 542.0,795.4 542.6,794.3 543.1,793.2 543.8,792.0 544.5,790.9 545.3,789.8 546.1,788.8 547.0,787.9 547.9,787.2 548.8,786.8 549.6,786.8 550.3,787.1 551.0,787.7 551.7,788.6 552.3,789.6 552.8,790.9 553.4,792.2 553.8,793.6 554.3,795.1 554.7,796.4 555.1,797.8 555.4,799.0 555.8,800.2 556.1,801.4 556.4,802.5 556.7,803.6 557.0,804.6 557.4,805.7 557.7,806.8 558.0,807.9 558.4,808.9 558.8,810.0 559.1,811.1 559.5,812.2 559.9,813.4 560.3,814.5 560.7,815.6 561.2,816.7 561.6,817.9 562.0,819.0 562.4,820.2 562.8,821.3 563.2,822.5 563.6,823.6 564.0,824.8 564.4,825.9 564.7,827.1 565.1,828.3 565.4,829.4 565.8,830.6 566.1,831.8 566.4,832.9 566.7,834.1 567.0,835.2 567.3,836.4 567.6,837.6 567.8,838.7 568.1,839.9 568.4,841.1 568.6,842.2 568.9,843.4 569.2,844.6 569.4,845.7 569.7,846.9 570.0,848.0 570.2,849.2 570.5,850.4 570.8,851.5 571.1,852.7 571.4,853.8 571.6,855.0 571.9,856.1 572.2,857.3 572.5,858.4 572.9,859.6 573.2,860.7 573.5,861.9 573.8,863.0 574.1,864.2 574.5,865.3 574.8,866.4 575.2,867.6 575.6,868.7 575.9,869.8 576.3,871.0 576.7,872.1 577.1,873.2 577.5,874.3 577.9,875.5 578.4,876.6 578.8,877.7 579.3,878.8 579.7,879.9 580.2,881.1 580.7,882.2 581.2,883.3 581.7,884.4 582.2,885.5 582.8,886.6 583.3,887.7 583.9,888.7 584.5,889.8 585.1,890.9 585.7,892.0 586.3,893.0 586.9,894.1 587.6,895.1 588.2,896.1 588.9,897.1 589.6,898.1 590.3,899.1 591.0,900.1 591.8,901.0 592.5,901.9 593.3,902.8 594.1,903.7 594.9,904.6 595.7,905.5 596.6,906.3 597.4,907.1 598.3,907.9 599.2,908.6 600.0,909.4 601.0,910.1 601.9,910.8 602.8,911.4 603.8,912.1 604.8,912.7 605.8,913.3 606.8,913.8 607.8,914.4 608.8,914.9 609.9,915.4 610.9,915.9 612.0,916.3 613.1,916.8 614.2,917.2 615.3,917.6 616.4,918.0 617.5,918.4 618.7,918.7 619.8,919.0 621.0,919.4 622.1,919.7 623.3,920.0 624.5,920.2 625.6,920.5 626.8,920.7 628.0,921.0 629.2,921.2 630.4,921.4 631.6,921.6 632.8,921.8 634.1,921.9 635.3,922.1 636.5,922.2 637.7,922.4 639.0,922.5 640.2,922.7 641.4,922.8 642.7,922.9 643.9,923.0 645.2,923.1 646.4,923.2 647.6,923.3 648.9,923.3 650.1,923.4 651.3,923.5 652.6,923.6 653.8,923.6 655.0,923.7 656.2,923.8 657.5,923.8 658.7,923.9 659.9,924.0 661.1,924.0 662.3,924.1 663.5,924.1 664.7,924.2 665.8,924.3 667.0,924.4 668.2,924.4 669.3,924.5 670.5,924.6 671.6,924.7 672.8,924.8 673.9,924.9 675.0,925.0 676.1,925.1 677.2,925.2 678.3,925.3 679.3,925.4 680.4,925.6" fill="none" stroke="#ff8085" stroke-width="2.00" stroke-linejoin="round" stroke-linecap="round"/>
</g>
<g stroke="#000" fill="none">
<rect x="93.5" y="24.9" width="587.5" height="414.1" stroke-width="2.6"/>
<line x1="86.8" y1="439.0" x2="93.5" y2="439.0" stroke-width="2.1"/>
<line x1="87.0" y1="397.6" x2="93.5" y2="397.6" stroke-width="1.9"/>
<line x1="86.8" y1="356.2" x2="93.5" y2="356.2" stroke-width="2.1"/>
<line x1="87.0" y1="314.8" x2="93.5" y2="314.8" stroke-width="1.9"/>
<line x1="86.8" y1="273.4" x2="93.5" y2="273.4" stroke-width="2.1"/>
<line x1="87.0" y1="231.9" x2="93.5" y2="231.9" stroke-width="1.9"/>
<line x1="86.8" y1="190.5" x2="93.5" y2="190.5" stroke-width="2.1"/>
<line x1="87.0" y1="149.1" x2="93.5" y2="149.1" stroke-width="1.9"/>
<line x1="86.8" y1="107.7" x2="93.5" y2="107.7" stroke-width="2.1"/>
<line x1="87.0" y1="66.3" x2="93.5" y2="66.3" stroke-width="1.9"/>
<line x1="86.8" y1="24.9" x2="93.5" y2="24.9" stroke-width="2.1"/>
<line x1="93.5" y1="439.0" x2="93.5" y2="446" stroke-width="2.6"/>
<line x1="141.5" y1="439.0" x2="141.5" y2="442.6" stroke-width="1.8"/>
<line x1="190.9" y1="439.0" x2="190.9" y2="443.6" stroke-width="1.8"/>
<line x1="239.8" y1="439.0" x2="239.8" y2="442.6" stroke-width="1.8"/>
<line x1="288.6" y1="439.0" x2="288.6" y2="443.6" stroke-width="1.8"/>
<line x1="338.4" y1="439.0" x2="338.4" y2="442.6" stroke-width="1.8"/>
<line x1="388.1" y1="439.0" x2="388.1" y2="443.6" stroke-width="1.8"/>
<line x1="437.2" y1="439.0" x2="437.2" y2="442.6" stroke-width="1.8"/>
<line x1="486.3" y1="439.0" x2="486.3" y2="443.6" stroke-width="1.8"/>
<line x1="535.1" y1="439.0" x2="535.1" y2="442.6" stroke-width="1.8"/>
<line x1="583.9" y1="439.0" x2="583.9" y2="443.6" stroke-width="1.8"/>
<line x1="632.4" y1="439.0" x2="632.4" y2="442.6" stroke-width="1.8"/>
<line x1="681.0" y1="439.0" x2="681.0" y2="444" stroke-width="2.6"/>
</g>
<g stroke="#000" fill="none">
<polyline points="83.3,509.5 683.8,509.5 683.8,934.8" stroke="#2a2a2a" stroke-width="2.1" stroke-linejoin="round"/>
<line x1="90.6" y1="510.5" x2="90.6" y2="934.8" stroke-width="2.6"/>
<line x1="83.3" y1="928.2" x2="683.8" y2="928.2" stroke-width="2.7"/>
<line x1="83.3" y1="648.3" x2="90.6" y2="648.3" stroke-width="1.8"/>
<line x1="83.3" y1="788.2" x2="90.6" y2="788.2" stroke-width="1.8"/>
<line x1="290.1" y1="928.2" x2="290.1" y2="932" stroke-width="1.8"/>
<line x1="386.4" y1="928.2" x2="386.4" y2="932" stroke-width="1.8"/>
<line x1="488.2" y1="928.2" x2="488.2" y2="932" stroke-width="1.8"/>
</g>
<g stroke-width="2.6">
<line x1="485.7" y1="53.4" x2="550" y2="53.4" stroke="#12aa4b"/>
<line x1="485.7" y1="74.3" x2="550" y2="74.3" stroke="#111"/>
<line x1="485.7" y1="95.7" x2="550" y2="95.7" stroke="#ff0c0c"/>
<line x1="491" y1="529.5" x2="558.3" y2="529.5" stroke="#12aa4b"/>
<line x1="491" y1="548.9" x2="558.3" y2="548.9" stroke="#111"/>
<line x1="491" y1="568.4" x2="558.3" y2="568.4" stroke="#ff0c0c"/>
</g>
<g style="will-change:transform">
<text x="53.8" y="31.0" font-size="17.60" fill="#000" font-weight="bold" textLength="31.1" lengthAdjust="spacingAndGlyphs" id="Ay100">100</text>
<text x="60.1" y="114.5" font-size="17.46" fill="#000" font-weight="bold" textLength="21.6" lengthAdjust="spacingAndGlyphs" id="Ay80">80</text>
<text x="60.3" y="196.2" font-size="17.68" fill="#000" font-weight="bold" textLength="21.3" lengthAdjust="spacingAndGlyphs" id="Ay60">60</text>
<text x="60.2" y="279.6" font-size="17.70" fill="#000" font-weight="bold" textLength="21.5" lengthAdjust="spacingAndGlyphs" id="Ay40">40</text>
<text x="60.4" y="362.2" font-size="17.61" fill="#000" font-weight="bold" textLength="21.2" lengthAdjust="spacingAndGlyphs" id="Ay20">20</text>
<text x="70.7" y="444.7" font-size="17.75" fill="#000" font-weight="bold" textLength="11.0" lengthAdjust="spacingAndGlyphs" id="Ay0">0</text>
<text x="82.1" y="460.8" font-size="17.30" fill="#000" font-weight="bold" textLength="11.0" lengthAdjust="spacingAndGlyphs" id="Ax0">0</text>
<text x="175.1" y="459.5" font-size="17.83" fill="#000" font-weight="bold" textLength="31.1" lengthAdjust="spacingAndGlyphs" id="Ax100">100</text>
<text x="272.4" y="461.4" font-size="18.36" fill="#000" font-weight="bold" textLength="31.5" lengthAdjust="spacingAndGlyphs" id="Ax200">200</text>
<text x="371.1" y="461.1" font-size="18.41" fill="#000" font-weight="bold" textLength="31.5" lengthAdjust="spacingAndGlyphs" id="Ax300">300</text>
<text x="469.6" y="461.4" font-size="18.14" fill="#000" font-weight="bold" textLength="31.1" lengthAdjust="spacingAndGlyphs" id="Ax400">400</text>
<text x="567.7" y="461.6" font-size="18.14" fill="#000" font-weight="bold" textLength="31.7" lengthAdjust="spacingAndGlyphs" id="Ax500">500</text>
<text x="664.3" y="460.6" font-size="18.02" fill="#000" font-weight="bold" textLength="32.3" lengthAdjust="spacingAndGlyphs" id="Ax600">600</text>
<text x="120.3" y="64.2" font-size="24.92" fill="#000" font-weight="bold" textLength="18.0" lengthAdjust="spacingAndGlyphs" id="A">A</text>
<text x="302.1" y="489.8" font-size="18.00" fill="#000" font-weight="bold" textLength="142.0" lengthAdjust="spacingAndGlyphs" id="TempA">Temperature (°C)</text>
<text x="518.9" y="488.2" font-size="12.27" fill="#000" font-weight="bold" textLength="187.4" lengthAdjust="spacingAndGlyphs" id="UnivA">Universal V4.5A TA Instruments</text>
<text x="0.0" y="0.0" font-size="18.00" fill="#000" font-weight="bold" textLength="91.8" lengthAdjust="spacingAndGlyphs" id="WeightA" transform="translate(45.55,281.74) rotate(-90)">Weight (%)</text>
<text x="562.8" y="59.2" font-size="13.68" fill="#12aa4b" font-weight="bold" textLength="73.8" lengthAdjust="spacingAndGlyphs" id="LA1">PVC TOTM</text>
<text x="562.7" y="79.6" font-size="13.52" fill="#000" font-weight="bold" textLength="39.4" lengthAdjust="spacingAndGlyphs" id="LA2">UPVC</text>
<text x="562.5" y="100.9" font-size="14.80" fill="#ff0c0c" font-weight="bold" textLength="91.5" lengthAdjust="spacingAndGlyphs" id="LA3">UPVC/10% IL</text>
<text x="51.7" y="515.2" font-size="15.83" fill="#000" font-weight="bold" textLength="23.9" lengthAdjust="spacingAndGlyphs" id="By1.2">1.2</text>
<text x="51.2" y="651.9" font-size="15.17" fill="#000" font-weight="bold" textLength="24.5" lengthAdjust="spacingAndGlyphs" id="By0.8">0.8</text>
<text x="51.0" y="791.6" font-size="15.76" fill="#000" font-weight="bold" textLength="24.5" lengthAdjust="spacingAndGlyphs" id="By0.4">0.4</text>
<text x="51.0" y="929.2" font-size="15.60" fill="#000" font-weight="bold" textLength="25.6" lengthAdjust="spacingAndGlyphs" id="By0.0">0.0</text>
<text x="85.6" y="949.1" font-size="15.85" fill="#000" font-weight="bold" textLength="10.6" lengthAdjust="spacingAndGlyphs" id="Bx0">0</text>
<text x="275.2" y="952.8" font-size="15.56" fill="#000" font-weight="bold" textLength="30.1" lengthAdjust="spacingAndGlyphs" id="Bx200">200</text>
<text x="471.8" y="949.6" font-size="15.58" fill="#000" font-weight="bold" textLength="30.2" lengthAdjust="spacingAndGlyphs" id="Bx400">400</text>
<text x="666.9" y="949.8" font-size="15.75" fill="#000" font-weight="bold" textLength="30.6" lengthAdjust="spacingAndGlyphs" id="Bx600">600</text>
<text x="120.5" y="549.8" font-size="24.32" fill="#000" font-weight="bold" textLength="15.8" lengthAdjust="spacingAndGlyphs" id="B">B</text>
<text x="302.0" y="979.8" font-size="18.00" fill="#000" font-weight="bold" textLength="146.7" lengthAdjust="spacingAndGlyphs" id="TempB">Temperature (°C)</text>
<text x="508.3" y="973.9" font-size="13.02" fill="#000" font-weight="bold" textLength="211.1" lengthAdjust="spacingAndGlyphs" id="UnivB">Universal V4.5A TA Instruments</text>
<text x="0.0" y="0.0" font-size="17.50" fill="#000" font-weight="bold" textLength="172.2" lengthAdjust="spacingAndGlyphs" id="DerivB" transform="translate(31.96,807.97) rotate(-90)">Deriv. Weight (%/°C)</text>
<text x="571.3" y="534.4" font-size="13.46" fill="#12aa4b" font-weight="bold" textLength="76.8" lengthAdjust="spacingAndGlyphs" id="LB1">PVC TOTM</text>
<text x="571.3" y="553.9" font-size="13.65" fill="#000" font-weight="bold" textLength="41.0" lengthAdjust="spacingAndGlyphs" id="LB2">UPVC</text>
<text x="571.2" y="574.6" font-size="14.80" fill="#ff0c0c" font-weight="bold" textLength="95.0" lengthAdjust="spacingAndGlyphs" id="LB3">UPVC/10% IL</text>
</g>
</svg></body></html>
